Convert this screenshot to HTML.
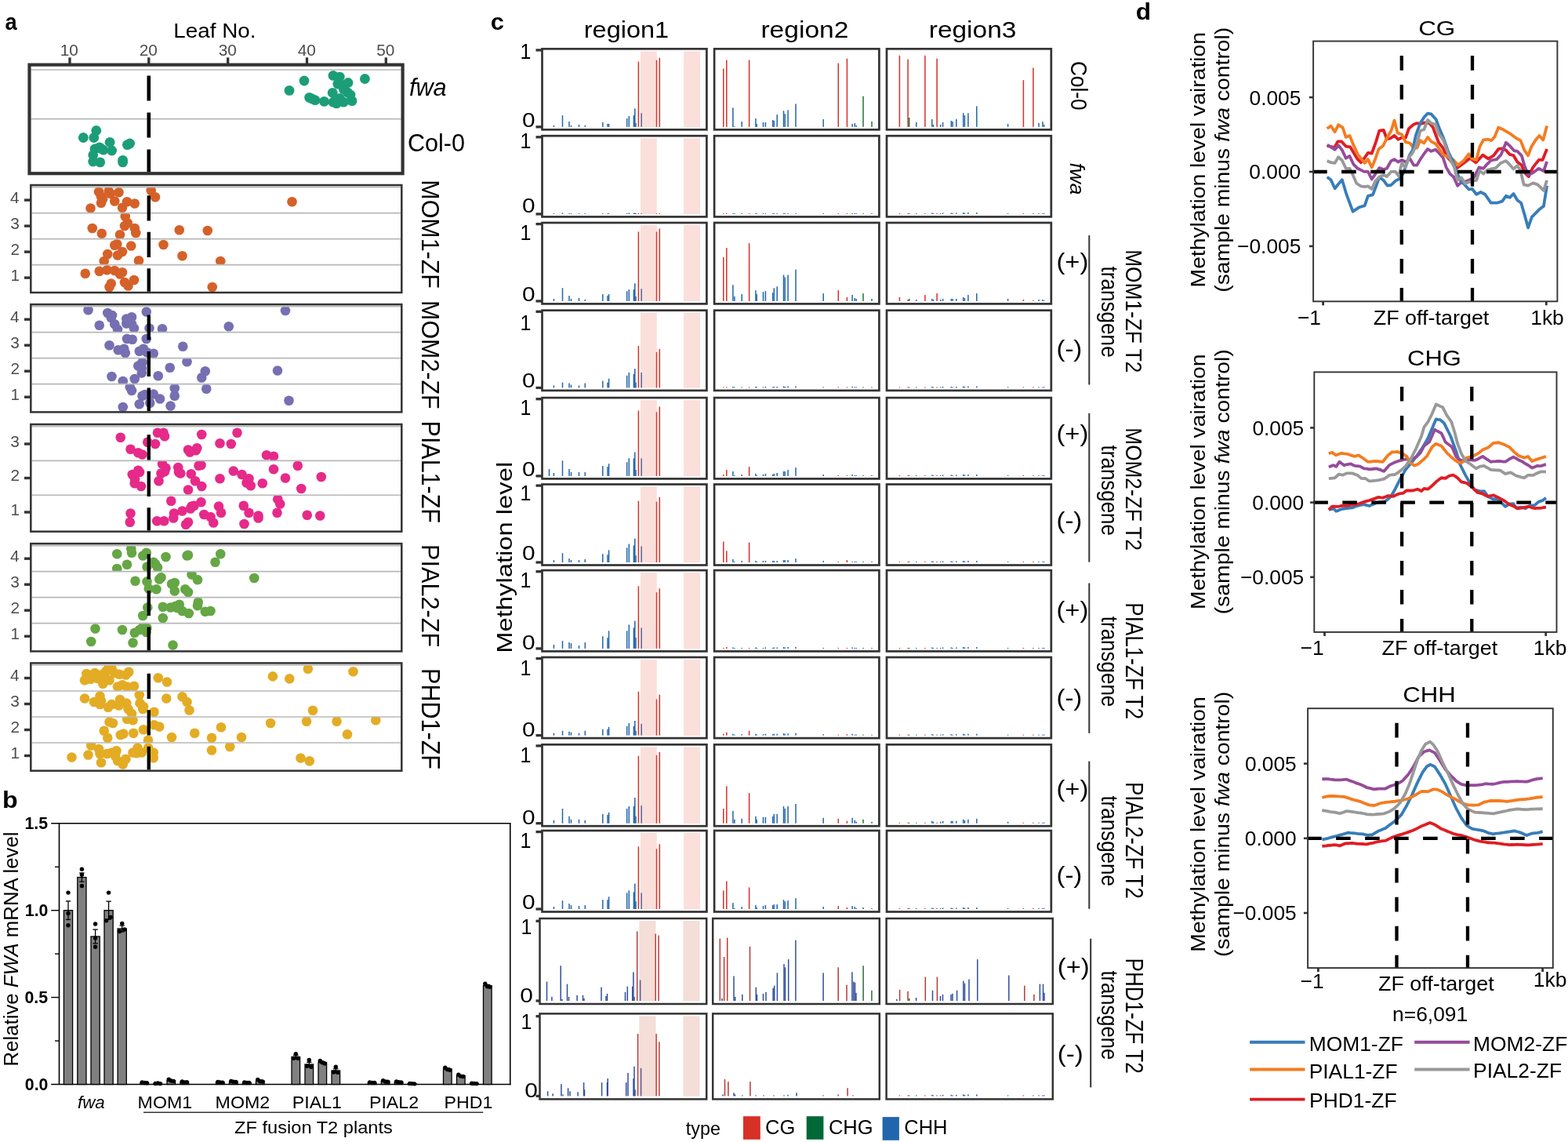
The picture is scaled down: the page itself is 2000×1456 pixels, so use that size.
<!DOCTYPE html><html><head><meta charset="utf-8"><title>Figure</title><style>html,body{margin:0;padding:0;background:#fff;}svg{display:block;}</style></head><body>
<svg width="2000" height="1456" viewBox="0 0 2000 1456" font-family="'Liberation Sans', Arial, sans-serif">
<rect x="0" y="0" width="2000" height="1456" fill="#fff"/>
<text transform="translate(6.58,37.7) scale(0.9042,1)" font-size="30.18" font-weight="bold" fill="#000">a</text>
<text transform="translate(221.27,47.54) scale(1.0769,1)" font-size="25.85" fill="#000">Leaf No.</text>
<line x1="89" y1="73.3" x2="89" y2="81" stroke="#333333" stroke-width="3.3"/>
<text x="76.64" y="70.9" font-size="20.8" fill="#4d4d4d">10</text>
<line x1="189.8" y1="73.3" x2="189.8" y2="81" stroke="#333333" stroke-width="3.3"/>
<text x="177.7" y="70.9" font-size="20.8" fill="#4d4d4d">20</text>
<line x1="290.7" y1="73.3" x2="290.7" y2="81" stroke="#333333" stroke-width="3.3"/>
<text x="278.7" y="70.9" font-size="20.8" fill="#4d4d4d">30</text>
<line x1="391.5" y1="73.3" x2="391.5" y2="81" stroke="#333333" stroke-width="3.3"/>
<text x="379.71" y="70.9" font-size="20.8" fill="#4d4d4d">40</text>
<line x1="492.3" y1="73.3" x2="492.3" y2="81" stroke="#333333" stroke-width="3.3"/>
<text x="480.3" y="70.9" font-size="20.8" fill="#4d4d4d">50</text>
<g>
<clipPath id="cb1"><rect x="39.5" y="89" width="472.1" height="62.6"/></clipPath>
<g clip-path="url(#cb1)">
<circle cx="369" cy="115.4" r="6.4" fill="#1b9e78"/>
<circle cx="388" cy="103" r="6.4" fill="#1b9e78"/>
<circle cx="425" cy="96.4" r="6.4" fill="#1b9e78"/>
<circle cx="433.3" cy="98.1" r="6.4" fill="#1b9e78"/>
<circle cx="444" cy="105.5" r="6.4" fill="#1b9e78"/>
<circle cx="430.8" cy="107.1" r="6.4" fill="#1b9e78"/>
<circle cx="465.4" cy="100.5" r="6.4" fill="#1b9e78"/>
<circle cx="424.2" cy="118.3" r="6.4" fill="#1b9e78"/>
<circle cx="443.2" cy="117.8" r="6.4" fill="#1b9e78"/>
<circle cx="438.2" cy="113.7" r="6.4" fill="#1b9e78"/>
<circle cx="394.6" cy="124.4" r="6.4" fill="#1b9e78"/>
<circle cx="402" cy="127.7" r="6.4" fill="#1b9e78"/>
<circle cx="413.5" cy="129.4" r="6.4" fill="#1b9e78"/>
<circle cx="425" cy="130.2" r="6.4" fill="#1b9e78"/>
<circle cx="429.2" cy="131.9" r="6.4" fill="#1b9e78"/>
<circle cx="438.2" cy="130.2" r="6.4" fill="#1b9e78"/>
<circle cx="449" cy="128.6" r="6.4" fill="#1b9e78"/>
<circle cx="433.3" cy="125.3" r="6.4" fill="#1b9e78"/>
<circle cx="398" cy="126" r="6.4" fill="#1b9e78"/>
<circle cx="436" cy="108" r="6.4" fill="#1b9e78"/>
<circle cx="447" cy="121" r="6.4" fill="#1b9e78"/>
</g>
<clipPath id="cb2"><rect x="39.5" y="151.6" width="472.1" height="70.4"/></clipPath>
<g clip-path="url(#cb2)">
<circle cx="106.3" cy="175.5" r="6.4" fill="#1b9e78"/>
<circle cx="122.8" cy="166.5" r="6.4" fill="#1b9e78"/>
<circle cx="119.8" cy="175.5" r="6.4" fill="#1b9e78"/>
<circle cx="126.9" cy="187.9" r="6.4" fill="#1b9e78"/>
<circle cx="131.9" cy="191.2" r="6.4" fill="#1b9e78"/>
<circle cx="140.1" cy="181.3" r="6.4" fill="#1b9e78"/>
<circle cx="142.6" cy="192" r="6.4" fill="#1b9e78"/>
<circle cx="118.7" cy="197.8" r="6.4" fill="#1b9e78"/>
<circle cx="118.7" cy="206" r="6.4" fill="#1b9e78"/>
<circle cx="127.7" cy="206.9" r="6.4" fill="#1b9e78"/>
<circle cx="162.4" cy="184.6" r="6.4" fill="#1b9e78"/>
<circle cx="165.6" cy="183" r="6.4" fill="#1b9e78"/>
<circle cx="156.6" cy="206.9" r="6.4" fill="#1b9e78"/>
<circle cx="156.6" cy="204.4" r="6.4" fill="#1b9e78"/>
<circle cx="121" cy="190" r="6.4" fill="#1b9e78"/>
<circle cx="128" cy="189" r="6.4" fill="#1b9e78"/>
</g>
<line x1="39.5" y1="89" x2="511.6" y2="89" stroke="#b8b8b8" stroke-width="1.7"/>
<line x1="39.5" y1="151.6" x2="511.6" y2="151.6" stroke="#b8b8b8" stroke-width="1.7"/>
<line x1="189.8" y1="96.4" x2="189.8" y2="219.3" stroke="#000" stroke-width="4.6" stroke-dasharray="32.2 14.8"/>
<rect x="37.5" y="82.6" width="476.1" height="138.6" fill="none" stroke="#333333" stroke-width="4.2"/>
</g>
<text transform="translate(521.93,122.08) scale(0.9624,1)" font-size="31.84" font-style="italic" fill="#000">fwa</text>
<text transform="translate(519.97,192.88) scale(0.9607,1)" font-size="31.84" fill="#000">Col-0</text>
<clipPath id="cb3"><rect x="40.5" y="238.6" width="470.8" height="33"/></clipPath>
<g clip-path="url(#cb3)">
<circle cx="126" cy="244.5" r="6.3" fill="#d56128"/>
<circle cx="138.7" cy="243.75" r="6.3" fill="#d56128"/>
<circle cx="151.5" cy="245.25" r="6.3" fill="#d56128"/>
<circle cx="129" cy="250.5" r="6.3" fill="#d56128"/>
<circle cx="129" cy="258.75" r="6.3" fill="#d56128"/>
<circle cx="146.25" cy="256.5" r="6.3" fill="#d56128"/>
<circle cx="162" cy="257.25" r="6.3" fill="#d56128"/>
<circle cx="171.75" cy="259.5" r="6.3" fill="#d56128"/>
<circle cx="115.5" cy="265.5" r="6.3" fill="#d56128"/>
<circle cx="156" cy="264.75" r="6.3" fill="#d56128"/>
<circle cx="192.75" cy="243" r="6.3" fill="#d56128"/>
<circle cx="198" cy="251.25" r="6.3" fill="#d56128"/>
<circle cx="372.5" cy="257.25" r="6.3" fill="#d56128"/>
<circle cx="141" cy="247" r="6.3" fill="#d56128"/>
<circle cx="131" cy="254" r="6.3" fill="#d56128"/>
</g>
<clipPath id="cb4"><rect x="40.5" y="271.6" width="470.8" height="33"/></clipPath>
<g clip-path="url(#cb4)">
<circle cx="159.75" cy="276" r="6.3" fill="#d56128"/>
<circle cx="162.75" cy="284.25" r="6.3" fill="#d56128"/>
<circle cx="159" cy="288" r="6.3" fill="#d56128"/>
<circle cx="117.75" cy="291" r="6.3" fill="#d56128"/>
<circle cx="171.75" cy="291" r="6.3" fill="#d56128"/>
<circle cx="129.75" cy="297.75" r="6.3" fill="#d56128"/>
<circle cx="173.25" cy="297" r="6.3" fill="#d56128"/>
<circle cx="153" cy="299.25" r="6.3" fill="#d56128"/>
<circle cx="228.75" cy="293.25" r="6.3" fill="#d56128"/>
<circle cx="264.75" cy="294" r="6.3" fill="#d56128"/>
</g>
<clipPath id="cb5"><rect x="40.5" y="304.6" width="470.8" height="33"/></clipPath>
<g clip-path="url(#cb5)">
<circle cx="149.25" cy="311.25" r="6.3" fill="#d56128"/>
<circle cx="146.25" cy="312.75" r="6.3" fill="#d56128"/>
<circle cx="167.25" cy="313.5" r="6.3" fill="#d56128"/>
<circle cx="137.25" cy="324" r="6.3" fill="#d56128"/>
<circle cx="156" cy="321" r="6.3" fill="#d56128"/>
<circle cx="150" cy="325.5" r="6.3" fill="#d56128"/>
<circle cx="132.75" cy="333" r="6.3" fill="#d56128"/>
<circle cx="177" cy="332.25" r="6.3" fill="#d56128"/>
<circle cx="208.5" cy="312" r="6.3" fill="#d56128"/>
<circle cx="232.5" cy="326.25" r="6.3" fill="#d56128"/>
<circle cx="281.25" cy="333" r="6.3" fill="#d56128"/>
</g>
<clipPath id="cb6"><rect x="40.5" y="337.6" width="470.8" height="35.4"/></clipPath>
<g clip-path="url(#cb6)">
<circle cx="108.75" cy="348.75" r="6.3" fill="#d56128"/>
<circle cx="126.75" cy="345.75" r="6.3" fill="#d56128"/>
<circle cx="136.5" cy="344.25" r="6.3" fill="#d56128"/>
<circle cx="146.25" cy="345" r="6.3" fill="#d56128"/>
<circle cx="156" cy="347.25" r="6.3" fill="#d56128"/>
<circle cx="153" cy="349.5" r="6.3" fill="#d56128"/>
<circle cx="141.75" cy="361.5" r="6.3" fill="#d56128"/>
<circle cx="139.5" cy="366" r="6.3" fill="#d56128"/>
<circle cx="159" cy="360" r="6.3" fill="#d56128"/>
<circle cx="163.5" cy="364.5" r="6.3" fill="#d56128"/>
<circle cx="171" cy="357" r="6.3" fill="#d56128"/>
<circle cx="270.75" cy="366" r="6.3" fill="#d56128"/>
</g>
<line x1="40.5" y1="238.6" x2="511.3" y2="238.6" stroke="#b8b8b8" stroke-width="1.7"/>
<line x1="40.5" y1="271.6" x2="511.3" y2="271.6" stroke="#b8b8b8" stroke-width="1.7"/>
<line x1="40.5" y1="304.6" x2="511.3" y2="304.6" stroke="#b8b8b8" stroke-width="1.7"/>
<line x1="40.5" y1="337.6" x2="511.3" y2="337.6" stroke="#b8b8b8" stroke-width="1.7"/>
<line x1="189.8" y1="249.3" x2="189.8" y2="371.8" stroke="#000" stroke-width="4.4" stroke-dasharray="32.2 14.3"/>
<rect x="39.3" y="236" width="473" height="137" fill="none" stroke="#333333" stroke-width="2.5"/>
<line x1="31" y1="255.1" x2="39.3" y2="255.1" stroke="#333333" stroke-width="3.4"/>
<text x="13.08" y="258.8" font-size="20.8" fill="#4d4d4d">4</text>
<line x1="31" y1="288.1" x2="39.3" y2="288.1" stroke="#333333" stroke-width="3.4"/>
<text x="13.29" y="291.8" font-size="20.8" fill="#4d4d4d">3</text>
<line x1="31" y1="321.1" x2="39.3" y2="321.1" stroke="#333333" stroke-width="3.4"/>
<text x="13.5" y="324.8" font-size="20.8" fill="#4d4d4d">2</text>
<line x1="31" y1="354.1" x2="39.3" y2="354.1" stroke="#333333" stroke-width="3.4"/>
<text x="13.39" y="357.8" font-size="20.8" fill="#4d4d4d">1</text>
<text transform="translate(538.02,229.31) rotate(90) scale(0.9605,1)" font-size="31.69" fill="#000">MOM1-ZF</text>
<clipPath id="cb7"><rect x="40.5" y="390.7" width="470.8" height="33"/></clipPath>
<g clip-path="url(#cb7)">
<circle cx="112.5" cy="395.25" r="6.3" fill="#766fb2"/>
<circle cx="137.25" cy="399" r="6.3" fill="#766fb2"/>
<circle cx="141.75" cy="405" r="6.3" fill="#766fb2"/>
<circle cx="146.25" cy="413.25" r="6.3" fill="#766fb2"/>
<circle cx="150" cy="420" r="6.3" fill="#766fb2"/>
<circle cx="126.75" cy="414.75" r="6.3" fill="#766fb2"/>
<circle cx="161.25" cy="406.5" r="6.3" fill="#766fb2"/>
<circle cx="168" cy="404.25" r="6.3" fill="#766fb2"/>
<circle cx="161.25" cy="412.5" r="6.3" fill="#766fb2"/>
<circle cx="168" cy="413.25" r="6.3" fill="#766fb2"/>
<circle cx="171" cy="418.5" r="6.3" fill="#766fb2"/>
<circle cx="186.75" cy="397.5" r="6.3" fill="#766fb2"/>
<circle cx="190.5" cy="418.5" r="6.3" fill="#766fb2"/>
<circle cx="207" cy="419.25" r="6.3" fill="#766fb2"/>
<circle cx="291.75" cy="416.25" r="6.3" fill="#766fb2"/>
<circle cx="364" cy="396" r="6.3" fill="#766fb2"/>
<circle cx="143" cy="402" r="6.3" fill="#766fb2"/>
<circle cx="164" cy="409" r="6.3" fill="#766fb2"/>
</g>
<clipPath id="cb8"><rect x="40.5" y="423.7" width="470.8" height="33"/></clipPath>
<g clip-path="url(#cb8)">
<circle cx="162" cy="432" r="6.3" fill="#766fb2"/>
<circle cx="168.75" cy="432.75" r="6.3" fill="#766fb2"/>
<circle cx="186.75" cy="432" r="6.3" fill="#766fb2"/>
<circle cx="139.5" cy="440.25" r="6.3" fill="#766fb2"/>
<circle cx="150.75" cy="446.25" r="6.3" fill="#766fb2"/>
<circle cx="158.25" cy="444.75" r="6.3" fill="#766fb2"/>
<circle cx="159.75" cy="450" r="6.3" fill="#766fb2"/>
<circle cx="177.75" cy="447.75" r="6.3" fill="#766fb2"/>
<circle cx="183" cy="444.75" r="6.3" fill="#766fb2"/>
<circle cx="187.5" cy="449.25" r="6.3" fill="#766fb2"/>
<circle cx="195.75" cy="450.75" r="6.3" fill="#766fb2"/>
<circle cx="233.25" cy="441.75" r="6.3" fill="#766fb2"/>
</g>
<clipPath id="cb9"><rect x="40.5" y="456.7" width="470.8" height="33"/></clipPath>
<g clip-path="url(#cb9)">
<circle cx="238.5" cy="461.25" r="6.3" fill="#766fb2"/>
<circle cx="181.5" cy="462" r="6.3" fill="#766fb2"/>
<circle cx="176.25" cy="466.5" r="6.3" fill="#766fb2"/>
<circle cx="180.75" cy="469.5" r="6.3" fill="#766fb2"/>
<circle cx="180.75" cy="475.5" r="6.3" fill="#766fb2"/>
<circle cx="216.75" cy="468.75" r="6.3" fill="#766fb2"/>
<circle cx="261.75" cy="473.25" r="6.3" fill="#766fb2"/>
<circle cx="257.25" cy="481.5" r="6.3" fill="#766fb2"/>
<circle cx="142.5" cy="480" r="6.3" fill="#766fb2"/>
<circle cx="156.75" cy="486" r="6.3" fill="#766fb2"/>
<circle cx="171.75" cy="483" r="6.3" fill="#766fb2"/>
<circle cx="201.75" cy="479.25" r="6.3" fill="#766fb2"/>
<circle cx="354" cy="472.5" r="6.3" fill="#766fb2"/>
</g>
<clipPath id="cb10"><rect x="40.5" y="489.7" width="470.8" height="35.7"/></clipPath>
<g clip-path="url(#cb10)">
<circle cx="165.75" cy="493.5" r="6.3" fill="#766fb2"/>
<circle cx="168" cy="498" r="6.3" fill="#766fb2"/>
<circle cx="222.75" cy="495" r="6.3" fill="#766fb2"/>
<circle cx="222.75" cy="504.75" r="6.3" fill="#766fb2"/>
<circle cx="263.25" cy="495.75" r="6.3" fill="#766fb2"/>
<circle cx="181.5" cy="504.75" r="6.3" fill="#766fb2"/>
<circle cx="195.75" cy="502.5" r="6.3" fill="#766fb2"/>
<circle cx="204" cy="508.5" r="6.3" fill="#766fb2"/>
<circle cx="191.25" cy="513.75" r="6.3" fill="#766fb2"/>
<circle cx="177.75" cy="515.25" r="6.3" fill="#766fb2"/>
<circle cx="156.75" cy="519" r="6.3" fill="#766fb2"/>
<circle cx="217.5" cy="517.5" r="6.3" fill="#766fb2"/>
<circle cx="368.5" cy="510.75" r="6.3" fill="#766fb2"/>
<circle cx="185" cy="503" r="6.3" fill="#766fb2"/>
</g>
<line x1="40.5" y1="390.7" x2="511.3" y2="390.7" stroke="#b8b8b8" stroke-width="1.7"/>
<line x1="40.5" y1="423.7" x2="511.3" y2="423.7" stroke="#b8b8b8" stroke-width="1.7"/>
<line x1="40.5" y1="456.7" x2="511.3" y2="456.7" stroke="#b8b8b8" stroke-width="1.7"/>
<line x1="40.5" y1="489.7" x2="511.3" y2="489.7" stroke="#b8b8b8" stroke-width="1.7"/>
<line x1="189.8" y1="401.4" x2="189.8" y2="524.2" stroke="#000" stroke-width="4.4" stroke-dasharray="32.2 14.3"/>
<rect x="39.3" y="388.1" width="473" height="137.3" fill="none" stroke="#333333" stroke-width="2.5"/>
<line x1="31" y1="407.2" x2="39.3" y2="407.2" stroke="#333333" stroke-width="3.4"/>
<text x="13.08" y="410.9" font-size="20.8" fill="#4d4d4d">4</text>
<line x1="31" y1="440.2" x2="39.3" y2="440.2" stroke="#333333" stroke-width="3.4"/>
<text x="13.29" y="443.9" font-size="20.8" fill="#4d4d4d">3</text>
<line x1="31" y1="473.2" x2="39.3" y2="473.2" stroke="#333333" stroke-width="3.4"/>
<text x="13.5" y="476.9" font-size="20.8" fill="#4d4d4d">2</text>
<line x1="31" y1="506.2" x2="39.3" y2="506.2" stroke="#333333" stroke-width="3.4"/>
<text x="13.39" y="509.9" font-size="20.8" fill="#4d4d4d">1</text>
<text transform="translate(538.02,383.06) rotate(90) scale(0.9605,1)" font-size="31.69" fill="#000">MOM2-ZF</text>
<clipPath id="cb11"><rect x="40.5" y="543.6" width="470.8" height="43.8"/></clipPath>
<g clip-path="url(#cb11)">
<circle cx="153.75" cy="557.75" r="6.3" fill="#e62a8a"/>
<circle cx="166.5" cy="572.75" r="6.3" fill="#e62a8a"/>
<circle cx="176.25" cy="577.25" r="6.3" fill="#e62a8a"/>
<circle cx="181.5" cy="579.5" r="6.3" fill="#e62a8a"/>
<circle cx="188.25" cy="563.75" r="6.3" fill="#e62a8a"/>
<circle cx="198" cy="566" r="6.3" fill="#e62a8a"/>
<circle cx="201" cy="551.75" r="6.3" fill="#e62a8a"/>
<circle cx="208.5" cy="551.75" r="6.3" fill="#e62a8a"/>
<circle cx="210" cy="556.25" r="6.3" fill="#e62a8a"/>
<circle cx="257.25" cy="554" r="6.3" fill="#e62a8a"/>
<circle cx="240" cy="573.5" r="6.3" fill="#e62a8a"/>
<circle cx="242.25" cy="576.5" r="6.3" fill="#e62a8a"/>
<circle cx="249.75" cy="574.25" r="6.3" fill="#e62a8a"/>
<circle cx="251.25" cy="571.25" r="6.3" fill="#e62a8a"/>
<circle cx="280.5" cy="565.25" r="6.3" fill="#e62a8a"/>
<circle cx="294.75" cy="566" r="6.3" fill="#e62a8a"/>
<circle cx="302.5" cy="551.75" r="6.3" fill="#e62a8a"/>
<circle cx="340" cy="580.25" r="6.3" fill="#e62a8a"/>
<circle cx="349" cy="581.75" r="6.3" fill="#e62a8a"/>
</g>
<clipPath id="cb12"><rect x="40.5" y="587.4" width="470.8" height="43.85"/></clipPath>
<g clip-path="url(#cb12)">
<circle cx="176.25" cy="599.75" r="6.3" fill="#e62a8a"/>
<circle cx="168.75" cy="605" r="6.3" fill="#e62a8a"/>
<circle cx="171.75" cy="616.25" r="6.3" fill="#e62a8a"/>
<circle cx="180" cy="620" r="6.3" fill="#e62a8a"/>
<circle cx="207" cy="591.5" r="6.3" fill="#e62a8a"/>
<circle cx="211.5" cy="596.75" r="6.3" fill="#e62a8a"/>
<circle cx="205.5" cy="603.5" r="6.3" fill="#e62a8a"/>
<circle cx="210" cy="601.25" r="6.3" fill="#e62a8a"/>
<circle cx="202.5" cy="613.25" r="6.3" fill="#e62a8a"/>
<circle cx="227.25" cy="596" r="6.3" fill="#e62a8a"/>
<circle cx="228" cy="602" r="6.3" fill="#e62a8a"/>
<circle cx="230.25" cy="603.5" r="6.3" fill="#e62a8a"/>
<circle cx="243.75" cy="604.25" r="6.3" fill="#e62a8a"/>
<circle cx="249" cy="613.25" r="6.3" fill="#e62a8a"/>
<circle cx="257.25" cy="620" r="6.3" fill="#e62a8a"/>
<circle cx="240" cy="624.5" r="6.3" fill="#e62a8a"/>
<circle cx="253.5" cy="593.75" r="6.3" fill="#e62a8a"/>
<circle cx="256.5" cy="593" r="6.3" fill="#e62a8a"/>
<circle cx="280.5" cy="610.25" r="6.3" fill="#e62a8a"/>
<circle cx="297.75" cy="600.5" r="6.3" fill="#e62a8a"/>
<circle cx="308.5" cy="605" r="6.3" fill="#e62a8a"/>
<circle cx="317.5" cy="610.25" r="6.3" fill="#e62a8a"/>
<circle cx="314.5" cy="615.5" r="6.3" fill="#e62a8a"/>
<circle cx="319.75" cy="619.25" r="6.3" fill="#e62a8a"/>
<circle cx="334.75" cy="616.25" r="6.3" fill="#e62a8a"/>
<circle cx="349" cy="598.25" r="6.3" fill="#e62a8a"/>
<circle cx="364" cy="609.5" r="6.3" fill="#e62a8a"/>
<circle cx="379.75" cy="593.75" r="6.3" fill="#e62a8a"/>
<circle cx="384.25" cy="623" r="6.3" fill="#e62a8a"/>
<circle cx="409.75" cy="608" r="6.3" fill="#e62a8a"/>
<circle cx="172" cy="611" r="6.3" fill="#e62a8a"/>
<circle cx="178" cy="602" r="6.3" fill="#e62a8a"/>
</g>
<clipPath id="cb13"><rect x="40.5" y="631.25" width="470.8" height="46.45"/></clipPath>
<g clip-path="url(#cb13)">
<circle cx="166.5" cy="654.5" r="6.3" fill="#e62a8a"/>
<circle cx="165.75" cy="665.75" r="6.3" fill="#e62a8a"/>
<circle cx="200.25" cy="664.25" r="6.3" fill="#e62a8a"/>
<circle cx="209.25" cy="664.25" r="6.3" fill="#e62a8a"/>
<circle cx="218.25" cy="638.75" r="6.3" fill="#e62a8a"/>
<circle cx="222" cy="654.5" r="6.3" fill="#e62a8a"/>
<circle cx="221.25" cy="660.5" r="6.3" fill="#e62a8a"/>
<circle cx="232.5" cy="651.5" r="6.3" fill="#e62a8a"/>
<circle cx="240" cy="665.75" r="6.3" fill="#e62a8a"/>
<circle cx="237" cy="668.75" r="6.3" fill="#e62a8a"/>
<circle cx="244.5" cy="645.5" r="6.3" fill="#e62a8a"/>
<circle cx="247.5" cy="644.75" r="6.3" fill="#e62a8a"/>
<circle cx="256.5" cy="640.25" r="6.3" fill="#e62a8a"/>
<circle cx="243" cy="648.5" r="6.3" fill="#e62a8a"/>
<circle cx="260.25" cy="656" r="6.3" fill="#e62a8a"/>
<circle cx="268.5" cy="659" r="6.3" fill="#e62a8a"/>
<circle cx="272.25" cy="666.5" r="6.3" fill="#e62a8a"/>
<circle cx="279" cy="645.5" r="6.3" fill="#e62a8a"/>
<circle cx="282" cy="653.75" r="6.3" fill="#e62a8a"/>
<circle cx="354.25" cy="636.5" r="6.3" fill="#e62a8a"/>
<circle cx="357.25" cy="642.5" r="6.3" fill="#e62a8a"/>
<circle cx="353.5" cy="653.75" r="6.3" fill="#e62a8a"/>
<circle cx="310.75" cy="644.75" r="6.3" fill="#e62a8a"/>
<circle cx="317.5" cy="653.75" r="6.3" fill="#e62a8a"/>
<circle cx="329.5" cy="657.5" r="6.3" fill="#e62a8a"/>
<circle cx="329.5" cy="660.5" r="6.3" fill="#e62a8a"/>
<circle cx="311.5" cy="668" r="6.3" fill="#e62a8a"/>
<circle cx="391.75" cy="656.75" r="6.3" fill="#e62a8a"/>
<circle cx="408.25" cy="657.5" r="6.3" fill="#e62a8a"/>
</g>
<line x1="40.5" y1="543.6" x2="511.3" y2="543.6" stroke="#b8b8b8" stroke-width="1.7"/>
<line x1="40.5" y1="587.4" x2="511.3" y2="587.4" stroke="#b8b8b8" stroke-width="1.7"/>
<line x1="40.5" y1="631.25" x2="511.3" y2="631.25" stroke="#b8b8b8" stroke-width="1.7"/>
<line x1="189.8" y1="554.3" x2="189.8" y2="676.5" stroke="#000" stroke-width="4.4" stroke-dasharray="32.2 14.3"/>
<rect x="39.3" y="541" width="473" height="136.7" fill="none" stroke="#333333" stroke-width="2.5"/>
<line x1="31" y1="566" x2="39.3" y2="566" stroke="#333333" stroke-width="3.4"/>
<text x="13.29" y="569.7" font-size="20.8" fill="#4d4d4d">3</text>
<line x1="31" y1="609.5" x2="39.3" y2="609.5" stroke="#333333" stroke-width="3.4"/>
<text x="13.5" y="613.2" font-size="20.8" fill="#4d4d4d">2</text>
<line x1="31" y1="653" x2="39.3" y2="653" stroke="#333333" stroke-width="3.4"/>
<text x="13.39" y="656.7" font-size="20.8" fill="#4d4d4d">1</text>
<text transform="translate(537.7,536.56) rotate(90) scale(0.9344,1)" font-size="32.61" fill="#000">PIAL1-ZF</text>
<clipPath id="cb14"><rect x="40.5" y="695.7" width="470.8" height="33"/></clipPath>
<g clip-path="url(#cb14)">
<circle cx="167.25" cy="699.5" r="6.3" fill="#65a645"/>
<circle cx="168" cy="704.75" r="6.3" fill="#65a645"/>
<circle cx="149.25" cy="706.25" r="6.3" fill="#65a645"/>
<circle cx="186.75" cy="704.75" r="6.3" fill="#65a645"/>
<circle cx="182.25" cy="708.5" r="6.3" fill="#65a645"/>
<circle cx="211.5" cy="710" r="6.3" fill="#65a645"/>
<circle cx="238.5" cy="708.5" r="6.3" fill="#65a645"/>
<circle cx="240" cy="707.75" r="6.3" fill="#65a645"/>
<circle cx="281.25" cy="706.25" r="6.3" fill="#65a645"/>
<circle cx="274.5" cy="716.75" r="6.3" fill="#65a645"/>
<circle cx="162" cy="719.75" r="6.3" fill="#65a645"/>
<circle cx="149.25" cy="725" r="6.3" fill="#65a645"/>
<circle cx="187.5" cy="722.75" r="6.3" fill="#65a645"/>
<circle cx="195.75" cy="716.75" r="6.3" fill="#65a645"/>
<circle cx="201" cy="723.5" r="6.3" fill="#65a645"/>
<circle cx="198" cy="719" r="6.3" fill="#65a645"/>
</g>
<clipPath id="cb15"><rect x="40.5" y="728.7" width="470.8" height="33"/></clipPath>
<g clip-path="url(#cb15)">
<circle cx="244.5" cy="732.5" r="6.3" fill="#65a645"/>
<circle cx="252" cy="739.25" r="6.3" fill="#65a645"/>
<circle cx="172.5" cy="740.75" r="6.3" fill="#65a645"/>
<circle cx="187.5" cy="741.5" r="6.3" fill="#65a645"/>
<circle cx="189.75" cy="750.5" r="6.3" fill="#65a645"/>
<circle cx="199.5" cy="751.25" r="6.3" fill="#65a645"/>
<circle cx="205.5" cy="736.25" r="6.3" fill="#65a645"/>
<circle cx="203.25" cy="738.5" r="6.3" fill="#65a645"/>
<circle cx="219" cy="744.5" r="6.3" fill="#65a645"/>
<circle cx="222.75" cy="743" r="6.3" fill="#65a645"/>
<circle cx="222.75" cy="753.5" r="6.3" fill="#65a645"/>
<circle cx="236.25" cy="751.25" r="6.3" fill="#65a645"/>
<circle cx="240" cy="755" r="6.3" fill="#65a645"/>
<circle cx="324.25" cy="737" r="6.3" fill="#65a645"/>
</g>
<clipPath id="cb16"><rect x="40.5" y="761.7" width="470.8" height="33"/></clipPath>
<g clip-path="url(#cb16)">
<circle cx="188.25" cy="774.5" r="6.3" fill="#65a645"/>
<circle cx="182.25" cy="785" r="6.3" fill="#65a645"/>
<circle cx="207.75" cy="773.75" r="6.3" fill="#65a645"/>
<circle cx="217.5" cy="774.5" r="6.3" fill="#65a645"/>
<circle cx="223.5" cy="773" r="6.3" fill="#65a645"/>
<circle cx="228.75" cy="770.75" r="6.3" fill="#65a645"/>
<circle cx="232.5" cy="779" r="6.3" fill="#65a645"/>
<circle cx="240.75" cy="782" r="6.3" fill="#65a645"/>
<circle cx="252.75" cy="767.75" r="6.3" fill="#65a645"/>
<circle cx="252" cy="772.25" r="6.3" fill="#65a645"/>
<circle cx="261.75" cy="779.75" r="6.3" fill="#65a645"/>
<circle cx="268.5" cy="779" r="6.3" fill="#65a645"/>
<circle cx="207.75" cy="788" r="6.3" fill="#65a645"/>
<circle cx="226" cy="775" r="6.3" fill="#65a645"/>
</g>
<clipPath id="cb17"><rect x="40.5" y="794.7" width="470.8" height="35.7"/></clipPath>
<g clip-path="url(#cb17)">
<circle cx="121.5" cy="801.5" r="6.3" fill="#65a645"/>
<circle cx="156" cy="803" r="6.3" fill="#65a645"/>
<circle cx="171.75" cy="806.75" r="6.3" fill="#65a645"/>
<circle cx="182.25" cy="799.25" r="6.3" fill="#65a645"/>
<circle cx="186.75" cy="806" r="6.3" fill="#65a645"/>
<circle cx="187.5" cy="800.75" r="6.3" fill="#65a645"/>
<circle cx="116.25" cy="818" r="6.3" fill="#65a645"/>
<circle cx="169.5" cy="819.5" r="6.3" fill="#65a645"/>
<circle cx="220.5" cy="822.5" r="6.3" fill="#65a645"/>
<circle cx="178" cy="803" r="6.3" fill="#65a645"/>
</g>
<line x1="40.5" y1="695.7" x2="511.3" y2="695.7" stroke="#b8b8b8" stroke-width="1.7"/>
<line x1="40.5" y1="728.7" x2="511.3" y2="728.7" stroke="#b8b8b8" stroke-width="1.7"/>
<line x1="40.5" y1="761.7" x2="511.3" y2="761.7" stroke="#b8b8b8" stroke-width="1.7"/>
<line x1="40.5" y1="794.7" x2="511.3" y2="794.7" stroke="#b8b8b8" stroke-width="1.7"/>
<line x1="189.8" y1="706.4" x2="189.8" y2="829.2" stroke="#000" stroke-width="4.4" stroke-dasharray="32.2 14.3"/>
<rect x="39.3" y="693.1" width="473" height="137.3" fill="none" stroke="#333333" stroke-width="2.5"/>
<line x1="31" y1="712.2" x2="39.3" y2="712.2" stroke="#333333" stroke-width="3.4"/>
<text x="13.08" y="715.9" font-size="20.8" fill="#4d4d4d">4</text>
<line x1="31" y1="745.2" x2="39.3" y2="745.2" stroke="#333333" stroke-width="3.4"/>
<text x="13.29" y="748.9" font-size="20.8" fill="#4d4d4d">3</text>
<line x1="31" y1="778.2" x2="39.3" y2="778.2" stroke="#333333" stroke-width="3.4"/>
<text x="13.5" y="781.9" font-size="20.8" fill="#4d4d4d">2</text>
<line x1="31" y1="811.2" x2="39.3" y2="811.2" stroke="#333333" stroke-width="3.4"/>
<text x="13.39" y="814.9" font-size="20.8" fill="#4d4d4d">1</text>
<text transform="translate(537.7,694.05) rotate(90) scale(0.9535,1)" font-size="32.14" fill="#000">PIAL2-ZF</text>
<clipPath id="cb18"><rect x="40.5" y="848" width="470.8" height="33"/></clipPath>
<g clip-path="url(#cb18)">
<circle cx="110.25" cy="859" r="6.3" fill="#e3ac24"/>
<circle cx="118.5" cy="862" r="6.3" fill="#e3ac24"/>
<circle cx="108" cy="867.25" r="6.3" fill="#e3ac24"/>
<circle cx="115.5" cy="865.75" r="6.3" fill="#e3ac24"/>
<circle cx="124.5" cy="865" r="6.3" fill="#e3ac24"/>
<circle cx="129" cy="860.5" r="6.3" fill="#e3ac24"/>
<circle cx="135" cy="856" r="6.3" fill="#e3ac24"/>
<circle cx="138" cy="852.25" r="6.3" fill="#e3ac24"/>
<circle cx="142.5" cy="852.25" r="6.3" fill="#e3ac24"/>
<circle cx="131.25" cy="871.75" r="6.3" fill="#e3ac24"/>
<circle cx="139.5" cy="867.25" r="6.3" fill="#e3ac24"/>
<circle cx="152.25" cy="859.75" r="6.3" fill="#e3ac24"/>
<circle cx="160.5" cy="860.5" r="6.3" fill="#e3ac24"/>
<circle cx="164.25" cy="856.75" r="6.3" fill="#e3ac24"/>
<circle cx="150" cy="875.5" r="6.3" fill="#e3ac24"/>
<circle cx="156" cy="873.25" r="6.3" fill="#e3ac24"/>
<circle cx="162" cy="875.5" r="6.3" fill="#e3ac24"/>
<circle cx="171" cy="874.75" r="6.3" fill="#e3ac24"/>
<circle cx="201.75" cy="864.25" r="6.3" fill="#e3ac24"/>
<circle cx="213" cy="869.5" r="6.3" fill="#e3ac24"/>
<circle cx="347.9" cy="862.4" r="6.3" fill="#e3ac24"/>
<circle cx="369.25" cy="865.4" r="6.3" fill="#e3ac24"/>
<circle cx="392.8" cy="852.7" r="6.3" fill="#e3ac24"/>
<circle cx="450.5" cy="856.3" r="6.3" fill="#e3ac24"/>
<circle cx="133" cy="862" r="6.3" fill="#e3ac24"/>
<circle cx="146" cy="858" r="6.3" fill="#e3ac24"/>
<circle cx="121" cy="858" r="6.3" fill="#e3ac24"/>
</g>
<clipPath id="cb19"><rect x="40.5" y="881" width="470.8" height="33"/></clipPath>
<g clip-path="url(#cb19)">
<circle cx="108" cy="890.5" r="6.3" fill="#e3ac24"/>
<circle cx="127.5" cy="887.5" r="6.3" fill="#e3ac24"/>
<circle cx="129" cy="893.5" r="6.3" fill="#e3ac24"/>
<circle cx="120" cy="895" r="6.3" fill="#e3ac24"/>
<circle cx="127.5" cy="898" r="6.3" fill="#e3ac24"/>
<circle cx="138" cy="901.75" r="6.3" fill="#e3ac24"/>
<circle cx="142.5" cy="898" r="6.3" fill="#e3ac24"/>
<circle cx="151.5" cy="899.5" r="6.3" fill="#e3ac24"/>
<circle cx="153" cy="892" r="6.3" fill="#e3ac24"/>
<circle cx="161.25" cy="896.5" r="6.3" fill="#e3ac24"/>
<circle cx="163.5" cy="904" r="6.3" fill="#e3ac24"/>
<circle cx="168" cy="910" r="6.3" fill="#e3ac24"/>
<circle cx="177.75" cy="886" r="6.3" fill="#e3ac24"/>
<circle cx="178.5" cy="896.5" r="6.3" fill="#e3ac24"/>
<circle cx="183" cy="901" r="6.3" fill="#e3ac24"/>
<circle cx="182.25" cy="904" r="6.3" fill="#e3ac24"/>
<circle cx="196.5" cy="907.75" r="6.3" fill="#e3ac24"/>
<circle cx="212.25" cy="890.5" r="6.3" fill="#e3ac24"/>
<circle cx="232.5" cy="888.25" r="6.3" fill="#e3ac24"/>
<circle cx="238.5" cy="895" r="6.3" fill="#e3ac24"/>
<circle cx="241.5" cy="905.5" r="6.3" fill="#e3ac24"/>
<circle cx="399" cy="905.8" r="6.3" fill="#e3ac24"/>
</g>
<clipPath id="cb20"><rect x="40.5" y="914" width="470.8" height="33"/></clipPath>
<g clip-path="url(#cb20)">
<circle cx="139.5" cy="920.5" r="6.3" fill="#e3ac24"/>
<circle cx="144" cy="922" r="6.3" fill="#e3ac24"/>
<circle cx="162" cy="916.75" r="6.3" fill="#e3ac24"/>
<circle cx="169.5" cy="918.25" r="6.3" fill="#e3ac24"/>
<circle cx="132.75" cy="931.75" r="6.3" fill="#e3ac24"/>
<circle cx="137.25" cy="940.75" r="6.3" fill="#e3ac24"/>
<circle cx="153.75" cy="937" r="6.3" fill="#e3ac24"/>
<circle cx="157.5" cy="935.5" r="6.3" fill="#e3ac24"/>
<circle cx="170.25" cy="934.75" r="6.3" fill="#e3ac24"/>
<circle cx="183" cy="930.25" r="6.3" fill="#e3ac24"/>
<circle cx="196.5" cy="924.25" r="6.3" fill="#e3ac24"/>
<circle cx="203.25" cy="926.5" r="6.3" fill="#e3ac24"/>
<circle cx="189" cy="943.75" r="6.3" fill="#e3ac24"/>
<circle cx="219" cy="940" r="6.3" fill="#e3ac24"/>
<circle cx="248.25" cy="934.75" r="6.3" fill="#e3ac24"/>
<circle cx="270" cy="940.75" r="6.3" fill="#e3ac24"/>
<circle cx="282" cy="927.25" r="6.3" fill="#e3ac24"/>
<circle cx="308" cy="940" r="6.3" fill="#e3ac24"/>
<circle cx="345.1" cy="922" r="6.3" fill="#e3ac24"/>
<circle cx="391" cy="919.75" r="6.3" fill="#e3ac24"/>
<circle cx="429.5" cy="919.75" r="6.3" fill="#e3ac24"/>
<circle cx="479.3" cy="918.25" r="6.3" fill="#e3ac24"/>
<circle cx="443" cy="936.25" r="6.3" fill="#e3ac24"/>
</g>
<clipPath id="cb21"><rect x="40.5" y="947" width="470.8" height="35.7"/></clipPath>
<g clip-path="url(#cb21)">
<circle cx="91.5" cy="965.5" r="6.3" fill="#e3ac24"/>
<circle cx="112.5" cy="962.5" r="6.3" fill="#e3ac24"/>
<circle cx="116.25" cy="950.5" r="6.3" fill="#e3ac24"/>
<circle cx="126" cy="955" r="6.3" fill="#e3ac24"/>
<circle cx="127.5" cy="961" r="6.3" fill="#e3ac24"/>
<circle cx="129" cy="972.25" r="6.3" fill="#e3ac24"/>
<circle cx="136.5" cy="961" r="6.3" fill="#e3ac24"/>
<circle cx="142.5" cy="959.5" r="6.3" fill="#e3ac24"/>
<circle cx="148.5" cy="957.25" r="6.3" fill="#e3ac24"/>
<circle cx="147" cy="964" r="6.3" fill="#e3ac24"/>
<circle cx="150" cy="970" r="6.3" fill="#e3ac24"/>
<circle cx="156.75" cy="974.5" r="6.3" fill="#e3ac24"/>
<circle cx="160.5" cy="967.75" r="6.3" fill="#e3ac24"/>
<circle cx="169.5" cy="959.5" r="6.3" fill="#e3ac24"/>
<circle cx="175.5" cy="953.5" r="6.3" fill="#e3ac24"/>
<circle cx="174" cy="960.25" r="6.3" fill="#e3ac24"/>
<circle cx="180.75" cy="959.5" r="6.3" fill="#e3ac24"/>
<circle cx="189" cy="953.5" r="6.3" fill="#e3ac24"/>
<circle cx="195.75" cy="959.5" r="6.3" fill="#e3ac24"/>
<circle cx="195.75" cy="966.25" r="6.3" fill="#e3ac24"/>
<circle cx="270" cy="956.5" r="6.3" fill="#e3ac24"/>
<circle cx="293.25" cy="952" r="6.3" fill="#e3ac24"/>
<circle cx="383.5" cy="966.5" r="6.3" fill="#e3ac24"/>
<circle cx="394.75" cy="970.3" r="6.3" fill="#e3ac24"/>
</g>
<line x1="40.5" y1="848" x2="511.3" y2="848" stroke="#b8b8b8" stroke-width="1.7"/>
<line x1="40.5" y1="881" x2="511.3" y2="881" stroke="#b8b8b8" stroke-width="1.7"/>
<line x1="40.5" y1="914" x2="511.3" y2="914" stroke="#b8b8b8" stroke-width="1.7"/>
<line x1="40.5" y1="947" x2="511.3" y2="947" stroke="#b8b8b8" stroke-width="1.7"/>
<line x1="189.8" y1="858.7" x2="189.8" y2="981.5" stroke="#000" stroke-width="4.4" stroke-dasharray="32.2 14.3"/>
<rect x="39.3" y="845.4" width="473" height="137.3" fill="none" stroke="#333333" stroke-width="2.5"/>
<line x1="31" y1="864.5" x2="39.3" y2="864.5" stroke="#333333" stroke-width="3.4"/>
<text x="13.08" y="868.2" font-size="20.8" fill="#4d4d4d">4</text>
<line x1="31" y1="897.5" x2="39.3" y2="897.5" stroke="#333333" stroke-width="3.4"/>
<text x="13.29" y="901.2" font-size="20.8" fill="#4d4d4d">3</text>
<line x1="31" y1="930.5" x2="39.3" y2="930.5" stroke="#333333" stroke-width="3.4"/>
<text x="13.5" y="934.2" font-size="20.8" fill="#4d4d4d">2</text>
<line x1="31" y1="963.5" x2="39.3" y2="963.5" stroke="#333333" stroke-width="3.4"/>
<text x="13.39" y="967.2" font-size="20.8" fill="#4d4d4d">1</text>
<text transform="translate(537.7,852.06) rotate(90) scale(0.9368,1)" font-size="32.61" fill="#000">PHD1-ZF</text>
<text transform="translate(3.1,1030.01) scale(1.1086,1)" font-size="29.12" font-weight="bold" fill="#000">b</text>
<line x1="75.5" y1="1049.75" x2="75.5" y2="1382.5" stroke="#000" stroke-width="1.6"/>
<line x1="65.2" y1="1049.75" x2="651.5" y2="1049.75" stroke="#000" stroke-width="1.6"/>
<line x1="650.75" y1="1049.75" x2="650.75" y2="1383.3" stroke="#000" stroke-width="1.6"/>
<line x1="65.2" y1="1382.5" x2="651.5" y2="1382.5" stroke="#000" stroke-width="1.6"/>
<line x1="65.2" y1="1160.7" x2="75.5" y2="1160.7" stroke="#000" stroke-width="1.4"/>
<line x1="65.2" y1="1271.6" x2="75.5" y2="1271.6" stroke="#000" stroke-width="1.4"/>
<line x1="70" y1="1105.25" x2="75.5" y2="1105.25" stroke="#000" stroke-width="1.4"/>
<line x1="70" y1="1216.15" x2="75.5" y2="1216.15" stroke="#000" stroke-width="1.4"/>
<line x1="70" y1="1327.05" x2="75.5" y2="1327.05" stroke="#000" stroke-width="1.4"/>
<text x="31.53" y="1057.3" font-size="21.3" font-weight="bold" fill="#000">1.5</text>
<text x="31.84" y="1168.2" font-size="21.3" font-weight="bold" fill="#000">1.0</text>
<text x="31.53" y="1279.1" font-size="21.3" font-weight="bold" fill="#000">0.5</text>
<text x="31.84" y="1390" font-size="21.3" font-weight="bold" fill="#000">0.0</text>
<rect x="81.4" y="1160.7" width="11.2" height="221.8" fill="#808080" stroke="#000" stroke-width="1.3"/>
<line x1="87" y1="1148.94" x2="87" y2="1172.46" stroke="#000" stroke-width="1.3"/>
<line x1="83.8" y1="1148.94" x2="90.2" y2="1148.94" stroke="#000" stroke-width="1.3"/>
<line x1="83.8" y1="1172.46" x2="90.2" y2="1172.46" stroke="#000" stroke-width="1.3"/>
<circle cx="87" cy="1138.08" r="2.7" fill="#000"/>
<circle cx="87" cy="1164.47" r="2.7" fill="#000"/>
<circle cx="87" cy="1179.77" r="2.7" fill="#000"/>
<rect x="98.8" y="1118.56" width="11.2" height="263.94" fill="#808080" stroke="#000" stroke-width="1.3"/>
<line x1="104.4" y1="1113.01" x2="104.4" y2="1124.1" stroke="#000" stroke-width="1.3"/>
<line x1="101.2" y1="1113.01" x2="107.6" y2="1113.01" stroke="#000" stroke-width="1.3"/>
<line x1="101.2" y1="1124.1" x2="107.6" y2="1124.1" stroke="#000" stroke-width="1.3"/>
<circle cx="104.4" cy="1108.13" r="2.7" fill="#000"/>
<circle cx="104.4" cy="1115.23" r="2.7" fill="#000"/>
<circle cx="104.4" cy="1129.43" r="2.7" fill="#000"/>
<rect x="116" y="1193.97" width="11.2" height="188.53" fill="#808080" stroke="#000" stroke-width="1.3"/>
<line x1="121.6" y1="1185.1" x2="121.6" y2="1202.84" stroke="#000" stroke-width="1.3"/>
<line x1="118.4" y1="1185.1" x2="124.8" y2="1185.1" stroke="#000" stroke-width="1.3"/>
<line x1="118.4" y1="1202.84" x2="124.8" y2="1202.84" stroke="#000" stroke-width="1.3"/>
<circle cx="121.6" cy="1178" r="2.7" fill="#000"/>
<circle cx="121.6" cy="1195.97" r="2.7" fill="#000"/>
<circle cx="121.6" cy="1207.28" r="2.7" fill="#000"/>
<rect x="133" y="1160.7" width="11.2" height="221.8" fill="#808080" stroke="#000" stroke-width="1.3"/>
<line x1="138.6" y1="1149.17" x2="138.6" y2="1172.23" stroke="#000" stroke-width="1.3"/>
<line x1="135.4" y1="1149.17" x2="141.8" y2="1149.17" stroke="#000" stroke-width="1.3"/>
<line x1="135.4" y1="1172.23" x2="141.8" y2="1172.23" stroke="#000" stroke-width="1.3"/>
<circle cx="138.6" cy="1138.08" r="2.7" fill="#000"/>
<circle cx="135.6" cy="1173.79" r="2.7" fill="#000"/>
<circle cx="141.1" cy="1169.35" r="2.7" fill="#000"/>
<rect x="150.1" y="1183.99" width="11.2" height="198.51" fill="#808080" stroke="#000" stroke-width="1.3"/>
<line x1="155.7" y1="1180" x2="155.7" y2="1187.98" stroke="#000" stroke-width="1.3"/>
<line x1="152.5" y1="1180" x2="158.9" y2="1180" stroke="#000" stroke-width="1.3"/>
<line x1="152.5" y1="1187.98" x2="158.9" y2="1187.98" stroke="#000" stroke-width="1.3"/>
<circle cx="155.7" cy="1177.34" r="2.7" fill="#000"/>
<circle cx="152.5" cy="1187.54" r="2.7" fill="#000"/>
<circle cx="158.8" cy="1184.88" r="2.7" fill="#000"/>
<rect x="179" y="1380.28" width="10.6" height="2.22" fill="#808080" stroke="#000" stroke-width="1.3"/>
<circle cx="181.3" cy="1379.84" r="2.7" fill="#000"/>
<circle cx="184.3" cy="1380.5" r="2.7" fill="#000"/>
<circle cx="187.3" cy="1380.73" r="2.7" fill="#000"/>
<rect x="196" y="1381.17" width="10.6" height="1.33" fill="#808080" stroke="#000" stroke-width="1.3"/>
<circle cx="198.3" cy="1381.39" r="2.7" fill="#000"/>
<circle cx="201.3" cy="1380.95" r="2.7" fill="#000"/>
<circle cx="204.3" cy="1381.61" r="2.7" fill="#000"/>
<rect x="213" y="1377.62" width="10.6" height="4.88" fill="#808080" stroke="#000" stroke-width="1.3"/>
<line x1="218.3" y1="1376.73" x2="218.3" y2="1378.51" stroke="#000" stroke-width="1.3"/>
<line x1="215.1" y1="1376.73" x2="221.5" y2="1376.73" stroke="#000" stroke-width="1.3"/>
<line x1="215.1" y1="1378.51" x2="221.5" y2="1378.51" stroke="#000" stroke-width="1.3"/>
<circle cx="215.3" cy="1376.29" r="2.7" fill="#000"/>
<circle cx="218.3" cy="1378.06" r="2.7" fill="#000"/>
<circle cx="221.3" cy="1378.51" r="2.7" fill="#000"/>
<rect x="230" y="1379.39" width="10.6" height="3.11" fill="#808080" stroke="#000" stroke-width="1.3"/>
<circle cx="232.3" cy="1378.95" r="2.7" fill="#000"/>
<circle cx="235.3" cy="1379.84" r="2.7" fill="#000"/>
<circle cx="238.3" cy="1379.62" r="2.7" fill="#000"/>
<rect x="275.5" y="1379.84" width="10.6" height="2.66" fill="#808080" stroke="#000" stroke-width="1.3"/>
<circle cx="277.8" cy="1379.39" r="2.7" fill="#000"/>
<circle cx="280.8" cy="1380.06" r="2.7" fill="#000"/>
<circle cx="283.8" cy="1380.28" r="2.7" fill="#000"/>
<rect x="292.5" y="1378.95" width="10.6" height="3.55" fill="#808080" stroke="#000" stroke-width="1.3"/>
<circle cx="294.8" cy="1378.51" r="2.7" fill="#000"/>
<circle cx="297.8" cy="1379.17" r="2.7" fill="#000"/>
<circle cx="300.8" cy="1379.39" r="2.7" fill="#000"/>
<rect x="309.5" y="1380.28" width="10.6" height="2.22" fill="#808080" stroke="#000" stroke-width="1.3"/>
<circle cx="311.8" cy="1380.06" r="2.7" fill="#000"/>
<circle cx="314.8" cy="1380.5" r="2.7" fill="#000"/>
<circle cx="317.8" cy="1380.5" r="2.7" fill="#000"/>
<rect x="326.5" y="1378.06" width="10.6" height="4.44" fill="#808080" stroke="#000" stroke-width="1.3"/>
<line x1="331.8" y1="1377.18" x2="331.8" y2="1378.95" stroke="#000" stroke-width="1.3"/>
<line x1="328.6" y1="1377.18" x2="335" y2="1377.18" stroke="#000" stroke-width="1.3"/>
<line x1="328.6" y1="1378.95" x2="335" y2="1378.95" stroke="#000" stroke-width="1.3"/>
<circle cx="328.8" cy="1376.51" r="2.7" fill="#000"/>
<circle cx="331.8" cy="1378.73" r="2.7" fill="#000"/>
<circle cx="334.8" cy="1378.95" r="2.7" fill="#000"/>
<rect x="372" y="1347.46" width="10.6" height="35.04" fill="#808080" stroke="#000" stroke-width="1.3"/>
<line x1="377.3" y1="1345.24" x2="377.3" y2="1349.67" stroke="#000" stroke-width="1.3"/>
<line x1="374.1" y1="1345.24" x2="380.5" y2="1345.24" stroke="#000" stroke-width="1.3"/>
<line x1="374.1" y1="1349.67" x2="380.5" y2="1349.67" stroke="#000" stroke-width="1.3"/>
<circle cx="377.3" cy="1343.68" r="2.7" fill="#000"/>
<circle cx="374.7" cy="1349.23" r="2.7" fill="#000"/>
<circle cx="379.9" cy="1349.23" r="2.7" fill="#000"/>
<rect x="389" y="1356.99" width="10.6" height="25.51" fill="#808080" stroke="#000" stroke-width="1.3"/>
<line x1="394.3" y1="1354.33" x2="394.3" y2="1359.65" stroke="#000" stroke-width="1.3"/>
<line x1="391.1" y1="1354.33" x2="397.5" y2="1354.33" stroke="#000" stroke-width="1.3"/>
<line x1="391.1" y1="1359.65" x2="397.5" y2="1359.65" stroke="#000" stroke-width="1.3"/>
<circle cx="394.3" cy="1351.45" r="2.7" fill="#000"/>
<circle cx="391.7" cy="1359.21" r="2.7" fill="#000"/>
<circle cx="396.9" cy="1360.32" r="2.7" fill="#000"/>
<rect x="406" y="1354.55" width="10.6" height="27.95" fill="#808080" stroke="#000" stroke-width="1.3"/>
<line x1="411.3" y1="1353.44" x2="411.3" y2="1355.66" stroke="#000" stroke-width="1.3"/>
<line x1="408.1" y1="1353.44" x2="414.5" y2="1353.44" stroke="#000" stroke-width="1.3"/>
<line x1="408.1" y1="1355.66" x2="414.5" y2="1355.66" stroke="#000" stroke-width="1.3"/>
<circle cx="408.3" cy="1352.56" r="2.7" fill="#000"/>
<circle cx="411.3" cy="1354.78" r="2.7" fill="#000"/>
<circle cx="414.3" cy="1355.88" r="2.7" fill="#000"/>
<rect x="423" y="1364.98" width="10.6" height="17.52" fill="#808080" stroke="#000" stroke-width="1.3"/>
<line x1="428.3" y1="1362.76" x2="428.3" y2="1367.2" stroke="#000" stroke-width="1.3"/>
<line x1="425.1" y1="1362.76" x2="431.5" y2="1362.76" stroke="#000" stroke-width="1.3"/>
<line x1="425.1" y1="1367.2" x2="431.5" y2="1367.2" stroke="#000" stroke-width="1.3"/>
<circle cx="428.3" cy="1360.32" r="2.7" fill="#000"/>
<circle cx="425.7" cy="1366.97" r="2.7" fill="#000"/>
<circle cx="430.9" cy="1367.42" r="2.7" fill="#000"/>
<rect x="469.3" y="1380.28" width="10.6" height="2.22" fill="#808080" stroke="#000" stroke-width="1.3"/>
<circle cx="471.6" cy="1380.06" r="2.7" fill="#000"/>
<circle cx="474.6" cy="1380.5" r="2.7" fill="#000"/>
<circle cx="477.6" cy="1380.5" r="2.7" fill="#000"/>
<rect x="486.3" y="1378.51" width="10.6" height="3.99" fill="#808080" stroke="#000" stroke-width="1.3"/>
<circle cx="488.6" cy="1377.62" r="2.7" fill="#000"/>
<circle cx="491.6" cy="1378.95" r="2.7" fill="#000"/>
<circle cx="494.6" cy="1379.17" r="2.7" fill="#000"/>
<rect x="503.3" y="1379.39" width="10.6" height="3.11" fill="#808080" stroke="#000" stroke-width="1.3"/>
<circle cx="505.6" cy="1378.95" r="2.7" fill="#000"/>
<circle cx="508.6" cy="1379.62" r="2.7" fill="#000"/>
<circle cx="511.6" cy="1379.84" r="2.7" fill="#000"/>
<rect x="520.3" y="1381.61" width="10.6" height="0.89" fill="#808080" stroke="#000" stroke-width="1.3"/>
<circle cx="522.6" cy="1381.39" r="2.7" fill="#000"/>
<circle cx="525.6" cy="1381.61" r="2.7" fill="#000"/>
<circle cx="528.6" cy="1381.83" r="2.7" fill="#000"/>
<rect x="565.5" y="1362.98" width="10.6" height="19.52" fill="#808080" stroke="#000" stroke-width="1.3"/>
<line x1="570.8" y1="1361.65" x2="570.8" y2="1364.31" stroke="#000" stroke-width="1.3"/>
<line x1="567.6" y1="1361.65" x2="574" y2="1361.65" stroke="#000" stroke-width="1.3"/>
<line x1="567.6" y1="1364.31" x2="574" y2="1364.31" stroke="#000" stroke-width="1.3"/>
<circle cx="567.8" cy="1361.21" r="2.7" fill="#000"/>
<circle cx="570.8" cy="1363.43" r="2.7" fill="#000"/>
<circle cx="573.8" cy="1364.31" r="2.7" fill="#000"/>
<rect x="582.5" y="1371.63" width="10.6" height="10.87" fill="#808080" stroke="#000" stroke-width="1.3"/>
<line x1="587.8" y1="1370.74" x2="587.8" y2="1372.52" stroke="#000" stroke-width="1.3"/>
<line x1="584.6" y1="1370.74" x2="591" y2="1370.74" stroke="#000" stroke-width="1.3"/>
<line x1="584.6" y1="1372.52" x2="591" y2="1372.52" stroke="#000" stroke-width="1.3"/>
<circle cx="584.8" cy="1370.3" r="2.7" fill="#000"/>
<circle cx="587.8" cy="1372.08" r="2.7" fill="#000"/>
<circle cx="590.8" cy="1372.52" r="2.7" fill="#000"/>
<rect x="599.5" y="1381.39" width="10.6" height="1.11" fill="#808080" stroke="#000" stroke-width="1.3"/>
<circle cx="601.8" cy="1381.17" r="2.7" fill="#000"/>
<circle cx="604.8" cy="1381.39" r="2.7" fill="#000"/>
<circle cx="607.8" cy="1381.61" r="2.7" fill="#000"/>
<rect x="616.5" y="1256.74" width="10.6" height="125.76" fill="#808080" stroke="#000" stroke-width="1.3"/>
<line x1="621.8" y1="1255.41" x2="621.8" y2="1258.07" stroke="#000" stroke-width="1.3"/>
<line x1="618.6" y1="1255.41" x2="625" y2="1255.41" stroke="#000" stroke-width="1.3"/>
<line x1="618.6" y1="1258.07" x2="625" y2="1258.07" stroke="#000" stroke-width="1.3"/>
<circle cx="618.8" cy="1254.3" r="2.7" fill="#000"/>
<circle cx="621.8" cy="1257.85" r="2.7" fill="#000"/>
<circle cx="624.8" cy="1258.29" r="2.7" fill="#000"/>
<text x="99.06" y="1413" font-size="22.3" font-style="italic" fill="#000">fwa</text>
<text transform="translate(175.61,1413) scale(1.0400,1)" font-size="22.3" fill="#000">MOM1</text>
<text transform="translate(274.61,1413) scale(1.0400,1)" font-size="22.3" fill="#000">MOM2</text>
<text transform="translate(372.75,1413) scale(1.0400,1)" font-size="22.3" fill="#000">PIAL1</text>
<text transform="translate(470.95,1413) scale(1.0400,1)" font-size="22.3" fill="#000">PIAL2</text>
<text transform="translate(566.59,1413) scale(1.0400,1)" font-size="22.3" fill="#000">PHD1</text>
<line x1="183" y1="1418.25" x2="616.25" y2="1418.25" stroke="#333" stroke-width="1.6"/>
<text transform="translate(299.11,1444.5) scale(1.0450,1)" font-size="22.6" fill="#000">ZF fusion T2 plants</text>
<text transform="translate(23.2,1210) rotate(-90)" font-size="25.8" text-anchor="middle">Relative <tspan font-style="italic">FWA</tspan> mRNA level</text>
<text transform="translate(625.76,37.71) scale(1.0631,1)" font-size="29.09" font-weight="bold" fill="#000">c</text>
<text transform="translate(744.73,47.8) scale(1.0700,1)" font-size="30.4" fill="#000">region1</text>
<text transform="translate(970.43,47.8) scale(1.1050,1)" font-size="30.4" fill="#000">region2</text>
<text transform="translate(1184.82,47.8) scale(1.1000,1)" font-size="30.4" fill="#000">region3</text>
<rect x="705.65" y="159.84" width="1.5" height="1.96" fill="#2166ac"/>
<rect x="716.75" y="147.12" width="1.5" height="14.69" fill="#2166ac"/>
<rect x="725.25" y="154.95" width="1.5" height="6.85" fill="#2166ac"/>
<rect x="727.75" y="159.84" width="1.5" height="1.96" fill="#2166ac"/>
<rect x="737.75" y="158.86" width="1.5" height="2.94" fill="#2166ac"/>
<rect x="745.55" y="159.84" width="1.5" height="1.96" fill="#2166ac"/>
<rect x="768.05" y="155.93" width="1.5" height="5.87" fill="#2166ac"/>
<rect x="774.25" y="157.88" width="1.5" height="3.92" fill="#2166ac"/>
<rect x="775.85" y="157.88" width="1.5" height="3.92" fill="#2166ac"/>
<rect x="798.95" y="151.03" width="1.5" height="10.77" fill="#2166ac"/>
<rect x="801.55" y="148.09" width="1.5" height="13.71" fill="#2166ac"/>
<rect x="807.65" y="147.12" width="1.5" height="14.69" fill="#2166ac"/>
<rect x="809.05" y="138.3" width="1.5" height="23.5" fill="#2166ac"/>
<rect x="810.25" y="156.91" width="1.5" height="4.9" fill="#2166ac"/>
<rect x="817.35" y="144.18" width="1.5" height="17.62" fill="#2166ac"/>
<rect x="813.65" y="78.59" width="1.5" height="83.22" fill="#d73027"/>
<rect x="836.75" y="76.63" width="1.5" height="85.17" fill="#d73027"/>
<rect x="840.55" y="73.69" width="1.5" height="88.11" fill="#d73027"/>
<rect x="817" y="65.3" width="20.8" height="96.8" fill="#ee6a55" fill-opacity="0.21"/>
<rect x="872" y="65.3" width="21" height="96.8" fill="#ee6a55" fill-opacity="0.21"/>
<rect x="934.15" y="137.33" width="1.5" height="24.48" fill="#2166ac"/>
<rect x="936.15" y="160.82" width="1.5" height="0.98" fill="#2166ac"/>
<rect x="945.45" y="154.95" width="1.5" height="6.85" fill="#2166ac"/>
<rect x="963.15" y="151.03" width="1.5" height="10.77" fill="#2166ac"/>
<rect x="964.45" y="157.88" width="1.5" height="3.92" fill="#2166ac"/>
<rect x="972.75" y="155.93" width="1.5" height="5.87" fill="#2166ac"/>
<rect x="975.65" y="155.93" width="1.5" height="5.87" fill="#2166ac"/>
<rect x="984.95" y="152.99" width="1.5" height="8.81" fill="#2166ac"/>
<rect x="986.55" y="153.97" width="1.5" height="7.83" fill="#2166ac"/>
<rect x="990.45" y="146.14" width="1.5" height="15.66" fill="#2166ac"/>
<rect x="998.75" y="141.24" width="1.5" height="20.56" fill="#2166ac"/>
<rect x="1000.45" y="145.16" width="1.5" height="16.64" fill="#2166ac"/>
<rect x="1004.35" y="140.26" width="1.5" height="21.54" fill="#2166ac"/>
<rect x="1014.25" y="132.43" width="1.5" height="29.37" fill="#2166ac"/>
<rect x="1049.45" y="152.01" width="1.5" height="9.79" fill="#2166ac"/>
<rect x="1086.35" y="157.88" width="1.5" height="3.92" fill="#2166ac"/>
<rect x="1089.55" y="156.91" width="1.5" height="4.9" fill="#2166ac"/>
<rect x="1091.55" y="159.84" width="1.5" height="1.96" fill="#2166ac"/>
<rect x="1100.25" y="122.64" width="1.5" height="39.16" fill="#1b7837"/>
<rect x="1111.25" y="154.95" width="1.5" height="6.85" fill="#1b7837"/>
<rect x="922.05" y="87.4" width="1.5" height="74.4" fill="#d73027"/>
<rect x="926.05" y="76.63" width="1.5" height="85.17" fill="#d73027"/>
<rect x="954.85" y="76.63" width="1.5" height="85.17" fill="#d73027"/>
<rect x="1068.55" y="80.54" width="1.5" height="81.26" fill="#d73027"/>
<rect x="1079.65" y="74.67" width="1.5" height="87.13" fill="#d73027"/>
<rect x="1168.05" y="155.93" width="1.5" height="5.87" fill="#2166ac"/>
<rect x="1188.05" y="152.01" width="1.5" height="9.79" fill="#2166ac"/>
<rect x="1189.65" y="158.86" width="1.5" height="2.94" fill="#2166ac"/>
<rect x="1198.95" y="158.86" width="1.5" height="2.94" fill="#2166ac"/>
<rect x="1201.85" y="155.93" width="1.5" height="5.87" fill="#2166ac"/>
<rect x="1212.55" y="153.97" width="1.5" height="7.83" fill="#2166ac"/>
<rect x="1214.35" y="154.95" width="1.5" height="6.85" fill="#2166ac"/>
<rect x="1219.05" y="152.01" width="1.5" height="9.79" fill="#2166ac"/>
<rect x="1227.95" y="144.18" width="1.5" height="17.62" fill="#2166ac"/>
<rect x="1229.65" y="147.12" width="1.5" height="14.69" fill="#2166ac"/>
<rect x="1234.15" y="144.18" width="1.5" height="17.62" fill="#2166ac"/>
<rect x="1245.05" y="135.37" width="1.5" height="26.43" fill="#2166ac"/>
<rect x="1284.85" y="157.88" width="1.5" height="3.92" fill="#2166ac"/>
<rect x="1324.25" y="156.91" width="1.5" height="4.9" fill="#2166ac"/>
<rect x="1329.15" y="154.95" width="1.5" height="6.85" fill="#2166ac"/>
<rect x="1330.95" y="158.86" width="1.5" height="2.94" fill="#2166ac"/>
<rect x="1158.95" y="150.05" width="1.5" height="11.75" fill="#1b7837"/>
<rect x="1146.65" y="70.75" width="1.5" height="91.05" fill="#d73027"/>
<rect x="1157.35" y="75.65" width="1.5" height="86.15" fill="#d73027"/>
<rect x="1179.15" y="70.75" width="1.5" height="91.05" fill="#d73027"/>
<rect x="1194.35" y="74.67" width="1.5" height="87.13" fill="#d73027"/>
<rect x="1304.65" y="102.08" width="1.5" height="59.72" fill="#d73027"/>
<rect x="1317.15" y="86.42" width="1.5" height="75.38" fill="#d73027"/>
<rect x="691.5" y="62.3" width="209.9" height="103" fill="none" stroke="#333333" stroke-width="2.7"/>
<rect x="911.1" y="62.3" width="210.3" height="103" fill="none" stroke="#333333" stroke-width="2.7"/>
<rect x="1131" y="62.3" width="209.8" height="103" fill="none" stroke="#333333" stroke-width="2.7"/>
<line x1="683.5" y1="63.9" x2="691.5" y2="63.9" stroke="#333333" stroke-width="3.3"/>
<line x1="683.5" y1="161.8" x2="691.5" y2="161.8" stroke="#333333" stroke-width="3.3"/>
<text transform="translate(663.54,75.1) scale(0.9200,1)" font-size="27.2" fill="#000">1</text>
<text transform="translate(666.07,162.2) scale(1.1400,1)" font-size="26.2" fill="#000">0</text>
<rect x="705.65" y="271.92" width="1.5" height="0.98" fill="#2166ac"/>
<rect x="716.75" y="271.43" width="1.5" height="1.47" fill="#2166ac"/>
<rect x="725.25" y="271.92" width="1.5" height="0.98" fill="#2166ac"/>
<rect x="727.75" y="271.92" width="1.5" height="0.98" fill="#2166ac"/>
<rect x="737.75" y="271.92" width="1.5" height="0.98" fill="#2166ac"/>
<rect x="745.55" y="271.92" width="1.5" height="0.98" fill="#2166ac"/>
<rect x="768.05" y="271.92" width="1.5" height="0.98" fill="#2166ac"/>
<rect x="774.25" y="271.92" width="1.5" height="0.98" fill="#2166ac"/>
<rect x="775.85" y="271.92" width="1.5" height="0.98" fill="#2166ac"/>
<rect x="798.95" y="271.92" width="1.5" height="0.98" fill="#2166ac"/>
<rect x="801.55" y="271.43" width="1.5" height="1.47" fill="#2166ac"/>
<rect x="807.65" y="271.92" width="1.5" height="0.98" fill="#2166ac"/>
<rect x="809.05" y="271.43" width="1.5" height="1.47" fill="#2166ac"/>
<rect x="810.25" y="271.92" width="1.5" height="0.98" fill="#2166ac"/>
<rect x="817.35" y="271.92" width="1.5" height="0.98" fill="#2166ac"/>
<rect x="813.65" y="271.92" width="1.5" height="0.98" fill="#d73027"/>
<rect x="836.75" y="271.92" width="1.5" height="0.98" fill="#d73027"/>
<rect x="840.55" y="271.92" width="1.5" height="0.98" fill="#d73027"/>
<rect x="817" y="176.2" width="20.8" height="97" fill="#ee6a55" fill-opacity="0.21"/>
<rect x="872" y="176.2" width="21" height="97" fill="#ee6a55" fill-opacity="0.21"/>
<rect x="934.15" y="271.92" width="1.5" height="0.98" fill="#2166ac"/>
<rect x="936.15" y="271.92" width="1.5" height="0.98" fill="#2166ac"/>
<rect x="945.45" y="271.92" width="1.5" height="0.98" fill="#2166ac"/>
<rect x="963.15" y="271.92" width="1.5" height="0.98" fill="#2166ac"/>
<rect x="964.45" y="271.92" width="1.5" height="0.98" fill="#2166ac"/>
<rect x="972.75" y="271.92" width="1.5" height="0.98" fill="#2166ac"/>
<rect x="975.65" y="271.92" width="1.5" height="0.98" fill="#2166ac"/>
<rect x="984.95" y="271.92" width="1.5" height="0.98" fill="#2166ac"/>
<rect x="986.55" y="271.92" width="1.5" height="0.98" fill="#2166ac"/>
<rect x="990.45" y="271.92" width="1.5" height="0.98" fill="#2166ac"/>
<rect x="998.75" y="271.92" width="1.5" height="0.98" fill="#2166ac"/>
<rect x="1000.45" y="271.92" width="1.5" height="0.98" fill="#2166ac"/>
<rect x="1004.35" y="271.92" width="1.5" height="0.98" fill="#2166ac"/>
<rect x="1014.25" y="271.92" width="1.5" height="0.98" fill="#2166ac"/>
<rect x="1049.45" y="271.92" width="1.5" height="0.98" fill="#2166ac"/>
<rect x="1086.35" y="271.92" width="1.5" height="0.98" fill="#2166ac"/>
<rect x="1089.55" y="271.92" width="1.5" height="0.98" fill="#2166ac"/>
<rect x="1091.55" y="271.92" width="1.5" height="0.98" fill="#2166ac"/>
<rect x="1100.25" y="271.92" width="1.5" height="0.98" fill="#1b7837"/>
<rect x="1111.25" y="271.92" width="1.5" height="0.98" fill="#1b7837"/>
<rect x="922.05" y="271.92" width="1.5" height="0.98" fill="#d73027"/>
<rect x="926.05" y="271.92" width="1.5" height="0.98" fill="#d73027"/>
<rect x="954.85" y="271.92" width="1.5" height="0.98" fill="#d73027"/>
<rect x="1068.55" y="271.92" width="1.5" height="0.98" fill="#d73027"/>
<rect x="1079.65" y="271.92" width="1.5" height="0.98" fill="#d73027"/>
<rect x="1168.05" y="271.92" width="1.5" height="0.98" fill="#2166ac"/>
<rect x="1188.05" y="271.43" width="1.5" height="1.47" fill="#2166ac"/>
<rect x="1189.65" y="271.92" width="1.5" height="0.98" fill="#2166ac"/>
<rect x="1198.95" y="271.92" width="1.5" height="0.98" fill="#2166ac"/>
<rect x="1201.85" y="271.43" width="1.5" height="1.47" fill="#2166ac"/>
<rect x="1212.55" y="271.43" width="1.5" height="1.47" fill="#2166ac"/>
<rect x="1214.35" y="271.92" width="1.5" height="0.98" fill="#2166ac"/>
<rect x="1219.05" y="271.43" width="1.5" height="1.47" fill="#2166ac"/>
<rect x="1227.95" y="270.94" width="1.5" height="1.96" fill="#2166ac"/>
<rect x="1229.65" y="271.43" width="1.5" height="1.47" fill="#2166ac"/>
<rect x="1234.15" y="270.94" width="1.5" height="1.96" fill="#2166ac"/>
<rect x="1245.05" y="270.94" width="1.5" height="1.96" fill="#2166ac"/>
<rect x="1284.85" y="271.92" width="1.5" height="0.98" fill="#2166ac"/>
<rect x="1324.25" y="271.92" width="1.5" height="0.98" fill="#2166ac"/>
<rect x="1329.15" y="271.92" width="1.5" height="0.98" fill="#2166ac"/>
<rect x="1330.95" y="271.92" width="1.5" height="0.98" fill="#2166ac"/>
<rect x="1158.95" y="271.92" width="1.5" height="0.98" fill="#1b7837"/>
<rect x="1146.65" y="271.92" width="1.5" height="0.98" fill="#d73027"/>
<rect x="1157.35" y="271.92" width="1.5" height="0.98" fill="#d73027"/>
<rect x="1179.15" y="271.92" width="1.5" height="0.98" fill="#d73027"/>
<rect x="1194.35" y="271.92" width="1.5" height="0.98" fill="#d73027"/>
<rect x="1304.65" y="271.92" width="1.5" height="0.98" fill="#d73027"/>
<rect x="1317.15" y="271.92" width="1.5" height="0.98" fill="#d73027"/>
<rect x="691.5" y="173.2" width="209.9" height="103.2" fill="none" stroke="#333333" stroke-width="2.7"/>
<rect x="911.1" y="173.2" width="210.3" height="103.2" fill="none" stroke="#333333" stroke-width="2.7"/>
<rect x="1131" y="173.2" width="209.8" height="103.2" fill="none" stroke="#333333" stroke-width="2.7"/>
<line x1="683.5" y1="174.8" x2="691.5" y2="174.8" stroke="#333333" stroke-width="3.3"/>
<line x1="683.5" y1="272.9" x2="691.5" y2="272.9" stroke="#333333" stroke-width="3.3"/>
<text transform="translate(663.54,189) scale(0.9200,1)" font-size="27.2" fill="#000">1</text>
<text transform="translate(666.07,271.2) scale(1.1400,1)" font-size="26.2" fill="#000">0</text>
<rect x="705.65" y="380.95" width="1.5" height="2.95" fill="#2166ac"/>
<rect x="716.75" y="367.19" width="1.5" height="16.71" fill="#2166ac"/>
<rect x="725.25" y="377.02" width="1.5" height="6.88" fill="#2166ac"/>
<rect x="727.75" y="380.95" width="1.5" height="2.95" fill="#2166ac"/>
<rect x="737.75" y="379.97" width="1.5" height="3.93" fill="#2166ac"/>
<rect x="745.55" y="381.93" width="1.5" height="1.97" fill="#2166ac"/>
<rect x="768.05" y="375.05" width="1.5" height="8.85" fill="#2166ac"/>
<rect x="774.25" y="377.02" width="1.5" height="6.88" fill="#2166ac"/>
<rect x="775.85" y="375.05" width="1.5" height="8.85" fill="#2166ac"/>
<rect x="798.95" y="371.12" width="1.5" height="12.78" fill="#2166ac"/>
<rect x="801.55" y="369.15" width="1.5" height="14.74" fill="#2166ac"/>
<rect x="807.65" y="369.15" width="1.5" height="14.74" fill="#2166ac"/>
<rect x="809.05" y="361.29" width="1.5" height="22.61" fill="#2166ac"/>
<rect x="810.25" y="378" width="1.5" height="5.9" fill="#2166ac"/>
<rect x="817.35" y="368.17" width="1.5" height="15.73" fill="#2166ac"/>
<rect x="813.65" y="295.43" width="1.5" height="88.47" fill="#d73027"/>
<rect x="836.75" y="295.43" width="1.5" height="88.47" fill="#d73027"/>
<rect x="840.55" y="291.5" width="1.5" height="92.4" fill="#d73027"/>
<rect x="817" y="287" width="20.8" height="97.2" fill="#ee6a55" fill-opacity="0.21"/>
<rect x="872" y="287" width="21" height="97.2" fill="#ee6a55" fill-opacity="0.21"/>
<rect x="934.15" y="363.26" width="1.5" height="20.64" fill="#2166ac"/>
<rect x="936.15" y="378" width="1.5" height="5.9" fill="#2166ac"/>
<rect x="945.45" y="375.05" width="1.5" height="8.85" fill="#2166ac"/>
<rect x="963.15" y="370.14" width="1.5" height="13.76" fill="#2166ac"/>
<rect x="964.45" y="375.05" width="1.5" height="8.85" fill="#2166ac"/>
<rect x="972.75" y="372.1" width="1.5" height="11.8" fill="#2166ac"/>
<rect x="975.65" y="371.12" width="1.5" height="12.78" fill="#2166ac"/>
<rect x="984.95" y="373.09" width="1.5" height="10.81" fill="#2166ac"/>
<rect x="986.55" y="367.19" width="1.5" height="16.71" fill="#2166ac"/>
<rect x="990.45" y="365.22" width="1.5" height="18.68" fill="#2166ac"/>
<rect x="998.75" y="350.48" width="1.5" height="33.42" fill="#2166ac"/>
<rect x="1000.45" y="353.43" width="1.5" height="30.47" fill="#2166ac"/>
<rect x="1004.35" y="350.48" width="1.5" height="33.42" fill="#2166ac"/>
<rect x="1014.25" y="343.6" width="1.5" height="40.3" fill="#2166ac"/>
<rect x="1049.45" y="374.07" width="1.5" height="9.83" fill="#2166ac"/>
<rect x="1086.35" y="376.04" width="1.5" height="7.86" fill="#2166ac"/>
<rect x="1089.55" y="379.97" width="1.5" height="3.93" fill="#2166ac"/>
<rect x="1091.55" y="380.95" width="1.5" height="2.95" fill="#2166ac"/>
<rect x="1100.25" y="374.07" width="1.5" height="9.83" fill="#1b7837"/>
<rect x="1111.25" y="380.95" width="1.5" height="2.95" fill="#1b7837"/>
<rect x="922.05" y="327.87" width="1.5" height="56.03" fill="#d73027"/>
<rect x="926.05" y="316.07" width="1.5" height="67.83" fill="#d73027"/>
<rect x="954.85" y="310.18" width="1.5" height="73.72" fill="#d73027"/>
<rect x="1068.55" y="370.14" width="1.5" height="13.76" fill="#d73027"/>
<rect x="1079.65" y="378.98" width="1.5" height="4.91" fill="#d73027"/>
<rect x="1168.05" y="381.93" width="1.5" height="1.97" fill="#2166ac"/>
<rect x="1188.05" y="380.95" width="1.5" height="2.95" fill="#2166ac"/>
<rect x="1189.65" y="381.93" width="1.5" height="1.97" fill="#2166ac"/>
<rect x="1198.95" y="381.93" width="1.5" height="1.97" fill="#2166ac"/>
<rect x="1201.85" y="380.95" width="1.5" height="2.95" fill="#2166ac"/>
<rect x="1212.55" y="380.95" width="1.5" height="2.95" fill="#2166ac"/>
<rect x="1214.35" y="380.95" width="1.5" height="2.95" fill="#2166ac"/>
<rect x="1219.05" y="380.95" width="1.5" height="2.95" fill="#2166ac"/>
<rect x="1227.95" y="378.98" width="1.5" height="4.91" fill="#2166ac"/>
<rect x="1229.65" y="379.97" width="1.5" height="3.93" fill="#2166ac"/>
<rect x="1234.15" y="376.04" width="1.5" height="7.86" fill="#2166ac"/>
<rect x="1245.05" y="374.07" width="1.5" height="9.83" fill="#2166ac"/>
<rect x="1284.85" y="380.95" width="1.5" height="2.95" fill="#2166ac"/>
<rect x="1324.25" y="381.93" width="1.5" height="1.97" fill="#2166ac"/>
<rect x="1329.15" y="381.93" width="1.5" height="1.97" fill="#2166ac"/>
<rect x="1330.95" y="382.92" width="1.5" height="0.98" fill="#2166ac"/>
<rect x="1158.95" y="380.95" width="1.5" height="2.95" fill="#1b7837"/>
<rect x="1146.65" y="378.98" width="1.5" height="4.91" fill="#d73027"/>
<rect x="1157.35" y="381.93" width="1.5" height="1.97" fill="#d73027"/>
<rect x="1179.15" y="376.04" width="1.5" height="7.86" fill="#d73027"/>
<rect x="1194.35" y="374.07" width="1.5" height="9.83" fill="#d73027"/>
<rect x="1304.65" y="381.93" width="1.5" height="1.97" fill="#d73027"/>
<rect x="1317.15" y="382.92" width="1.5" height="0.98" fill="#d73027"/>
<rect x="691.5" y="284" width="209.9" height="103.4" fill="none" stroke="#333333" stroke-width="2.7"/>
<rect x="911.1" y="284" width="210.3" height="103.4" fill="none" stroke="#333333" stroke-width="2.7"/>
<rect x="1131" y="284" width="209.8" height="103.4" fill="none" stroke="#333333" stroke-width="2.7"/>
<line x1="683.5" y1="285.6" x2="691.5" y2="285.6" stroke="#333333" stroke-width="3.3"/>
<line x1="683.5" y1="383.9" x2="691.5" y2="383.9" stroke="#333333" stroke-width="3.3"/>
<text transform="translate(663.54,305.6) scale(0.9200,1)" font-size="27.2" fill="#000">1</text>
<text transform="translate(666.07,383.6) scale(1.1400,1)" font-size="26.2" fill="#000">0</text>
<rect x="705.65" y="491.49" width="1.5" height="2.91" fill="#2166ac"/>
<rect x="716.75" y="487.6" width="1.5" height="6.8" fill="#2166ac"/>
<rect x="725.25" y="488.57" width="1.5" height="5.83" fill="#2166ac"/>
<rect x="727.75" y="490.52" width="1.5" height="3.88" fill="#2166ac"/>
<rect x="737.75" y="491.49" width="1.5" height="2.91" fill="#2166ac"/>
<rect x="745.55" y="488.57" width="1.5" height="5.83" fill="#2166ac"/>
<rect x="768.05" y="485.66" width="1.5" height="8.74" fill="#2166ac"/>
<rect x="774.25" y="487.6" width="1.5" height="6.8" fill="#2166ac"/>
<rect x="775.85" y="482.75" width="1.5" height="11.65" fill="#2166ac"/>
<rect x="798.95" y="478.86" width="1.5" height="15.54" fill="#2166ac"/>
<rect x="801.55" y="474.98" width="1.5" height="19.42" fill="#2166ac"/>
<rect x="807.65" y="476.92" width="1.5" height="17.48" fill="#2166ac"/>
<rect x="809.05" y="470.12" width="1.5" height="24.27" fill="#2166ac"/>
<rect x="810.25" y="487.6" width="1.5" height="6.8" fill="#2166ac"/>
<rect x="817.35" y="474.98" width="1.5" height="19.42" fill="#2166ac"/>
<rect x="813.65" y="441" width="1.5" height="53.4" fill="#d73027"/>
<rect x="836.75" y="448.76" width="1.5" height="45.64" fill="#d73027"/>
<rect x="840.55" y="444.88" width="1.5" height="49.52" fill="#d73027"/>
<rect x="817" y="398.7" width="20.8" height="96" fill="#ee6a55" fill-opacity="0.21"/>
<rect x="872" y="398.7" width="21" height="96" fill="#ee6a55" fill-opacity="0.21"/>
<rect x="934.15" y="492.94" width="1.5" height="1.46" fill="#2166ac"/>
<rect x="936.15" y="493.43" width="1.5" height="0.97" fill="#2166ac"/>
<rect x="945.45" y="493.43" width="1.5" height="0.97" fill="#2166ac"/>
<rect x="963.15" y="492.94" width="1.5" height="1.46" fill="#2166ac"/>
<rect x="964.45" y="493.43" width="1.5" height="0.97" fill="#2166ac"/>
<rect x="972.75" y="493.43" width="1.5" height="0.97" fill="#2166ac"/>
<rect x="975.65" y="492.94" width="1.5" height="1.46" fill="#2166ac"/>
<rect x="984.95" y="493.43" width="1.5" height="0.97" fill="#2166ac"/>
<rect x="986.55" y="492.94" width="1.5" height="1.46" fill="#2166ac"/>
<rect x="990.45" y="492.94" width="1.5" height="1.46" fill="#2166ac"/>
<rect x="998.75" y="492.46" width="1.5" height="1.94" fill="#2166ac"/>
<rect x="1000.45" y="492.94" width="1.5" height="1.46" fill="#2166ac"/>
<rect x="1004.35" y="492.46" width="1.5" height="1.94" fill="#2166ac"/>
<rect x="1014.25" y="492.46" width="1.5" height="1.94" fill="#2166ac"/>
<rect x="1049.45" y="493.43" width="1.5" height="0.97" fill="#2166ac"/>
<rect x="1086.35" y="492.94" width="1.5" height="1.46" fill="#2166ac"/>
<rect x="1089.55" y="493.43" width="1.5" height="0.97" fill="#2166ac"/>
<rect x="1091.55" y="493.43" width="1.5" height="0.97" fill="#2166ac"/>
<rect x="1100.25" y="493.43" width="1.5" height="0.97" fill="#1b7837"/>
<rect x="1111.25" y="493.43" width="1.5" height="0.97" fill="#1b7837"/>
<rect x="922.05" y="493.43" width="1.5" height="0.97" fill="#d73027"/>
<rect x="926.05" y="493.43" width="1.5" height="0.97" fill="#d73027"/>
<rect x="954.85" y="493.43" width="1.5" height="0.97" fill="#d73027"/>
<rect x="1068.55" y="493.43" width="1.5" height="0.97" fill="#d73027"/>
<rect x="1079.65" y="493.43" width="1.5" height="0.97" fill="#d73027"/>
<rect x="1168.05" y="493.43" width="1.5" height="0.97" fill="#2166ac"/>
<rect x="1188.05" y="492.94" width="1.5" height="1.46" fill="#2166ac"/>
<rect x="1189.65" y="493.43" width="1.5" height="0.97" fill="#2166ac"/>
<rect x="1198.95" y="493.43" width="1.5" height="0.97" fill="#2166ac"/>
<rect x="1201.85" y="492.94" width="1.5" height="1.46" fill="#2166ac"/>
<rect x="1212.55" y="492.94" width="1.5" height="1.46" fill="#2166ac"/>
<rect x="1214.35" y="493.43" width="1.5" height="0.97" fill="#2166ac"/>
<rect x="1219.05" y="492.94" width="1.5" height="1.46" fill="#2166ac"/>
<rect x="1227.95" y="492.46" width="1.5" height="1.94" fill="#2166ac"/>
<rect x="1229.65" y="492.94" width="1.5" height="1.46" fill="#2166ac"/>
<rect x="1234.15" y="492.46" width="1.5" height="1.94" fill="#2166ac"/>
<rect x="1245.05" y="492.46" width="1.5" height="1.94" fill="#2166ac"/>
<rect x="1284.85" y="493.43" width="1.5" height="0.97" fill="#2166ac"/>
<rect x="1324.25" y="493.43" width="1.5" height="0.97" fill="#2166ac"/>
<rect x="1329.15" y="493.43" width="1.5" height="0.97" fill="#2166ac"/>
<rect x="1330.95" y="493.43" width="1.5" height="0.97" fill="#2166ac"/>
<rect x="1158.95" y="493.43" width="1.5" height="0.97" fill="#1b7837"/>
<rect x="1146.65" y="493.43" width="1.5" height="0.97" fill="#d73027"/>
<rect x="1157.35" y="493.43" width="1.5" height="0.97" fill="#d73027"/>
<rect x="1179.15" y="493.43" width="1.5" height="0.97" fill="#d73027"/>
<rect x="1194.35" y="493.43" width="1.5" height="0.97" fill="#d73027"/>
<rect x="1304.65" y="493.43" width="1.5" height="0.97" fill="#d73027"/>
<rect x="1317.15" y="493.43" width="1.5" height="0.97" fill="#d73027"/>
<rect x="691.5" y="395.7" width="209.9" height="102.2" fill="none" stroke="#333333" stroke-width="2.7"/>
<rect x="911.1" y="395.7" width="210.3" height="102.2" fill="none" stroke="#333333" stroke-width="2.7"/>
<rect x="1131" y="395.7" width="209.8" height="102.2" fill="none" stroke="#333333" stroke-width="2.7"/>
<line x1="683.5" y1="397.3" x2="691.5" y2="397.3" stroke="#333333" stroke-width="3.3"/>
<line x1="683.5" y1="494.4" x2="691.5" y2="494.4" stroke="#333333" stroke-width="3.3"/>
<text transform="translate(663.54,420.8) scale(0.9200,1)" font-size="27.2" fill="#000">1</text>
<text transform="translate(666.07,494.3) scale(1.1400,1)" font-size="26.2" fill="#000">0</text>
<rect x="699.75" y="598.06" width="1.5" height="8.84" fill="#2166ac"/>
<rect x="705.65" y="602.97" width="1.5" height="3.93" fill="#2166ac"/>
<rect x="716.75" y="587.26" width="1.5" height="19.64" fill="#2166ac"/>
<rect x="725.25" y="598.06" width="1.5" height="8.84" fill="#2166ac"/>
<rect x="727.75" y="601.99" width="1.5" height="4.91" fill="#2166ac"/>
<rect x="737.75" y="601.99" width="1.5" height="4.91" fill="#2166ac"/>
<rect x="745.55" y="601.99" width="1.5" height="4.91" fill="#2166ac"/>
<rect x="768.05" y="594.13" width="1.5" height="12.77" fill="#2166ac"/>
<rect x="774.25" y="595.12" width="1.5" height="11.78" fill="#2166ac"/>
<rect x="775.85" y="591.19" width="1.5" height="15.71" fill="#2166ac"/>
<rect x="798.95" y="589.22" width="1.5" height="17.68" fill="#2166ac"/>
<rect x="801.55" y="584.31" width="1.5" height="22.59" fill="#2166ac"/>
<rect x="807.65" y="584.31" width="1.5" height="22.59" fill="#2166ac"/>
<rect x="809.05" y="576.46" width="1.5" height="30.44" fill="#2166ac"/>
<rect x="810.25" y="599.04" width="1.5" height="7.86" fill="#2166ac"/>
<rect x="817.35" y="584.31" width="1.5" height="22.59" fill="#2166ac"/>
<rect x="813.65" y="523.43" width="1.5" height="83.47" fill="#d73027"/>
<rect x="836.75" y="525.39" width="1.5" height="81.51" fill="#d73027"/>
<rect x="840.55" y="518.52" width="1.5" height="88.38" fill="#d73027"/>
<rect x="817" y="510.1" width="20.8" height="97.1" fill="#ee6a55" fill-opacity="0.21"/>
<rect x="872" y="510.1" width="21" height="97.1" fill="#ee6a55" fill-opacity="0.21"/>
<rect x="934.15" y="601.01" width="1.5" height="5.89" fill="#2166ac"/>
<rect x="936.15" y="605.92" width="1.5" height="0.98" fill="#2166ac"/>
<rect x="945.45" y="604.94" width="1.5" height="1.96" fill="#2166ac"/>
<rect x="963.15" y="603.95" width="1.5" height="2.95" fill="#2166ac"/>
<rect x="964.45" y="605.92" width="1.5" height="0.98" fill="#2166ac"/>
<rect x="972.75" y="604.94" width="1.5" height="1.96" fill="#2166ac"/>
<rect x="975.65" y="603.95" width="1.5" height="2.95" fill="#2166ac"/>
<rect x="984.95" y="604.94" width="1.5" height="1.96" fill="#2166ac"/>
<rect x="986.55" y="603.95" width="1.5" height="2.95" fill="#2166ac"/>
<rect x="990.45" y="602.97" width="1.5" height="3.93" fill="#2166ac"/>
<rect x="998.75" y="601.01" width="1.5" height="5.89" fill="#2166ac"/>
<rect x="1000.45" y="601.01" width="1.5" height="5.89" fill="#2166ac"/>
<rect x="1004.35" y="599.04" width="1.5" height="7.86" fill="#2166ac"/>
<rect x="1014.25" y="596.1" width="1.5" height="10.8" fill="#2166ac"/>
<rect x="1049.45" y="604.94" width="1.5" height="1.96" fill="#2166ac"/>
<rect x="1086.35" y="604.94" width="1.5" height="1.96" fill="#2166ac"/>
<rect x="1089.55" y="605.92" width="1.5" height="0.98" fill="#2166ac"/>
<rect x="1091.55" y="605.92" width="1.5" height="0.98" fill="#2166ac"/>
<rect x="1100.25" y="605.92" width="1.5" height="0.98" fill="#1b7837"/>
<rect x="1111.25" y="605.92" width="1.5" height="0.98" fill="#1b7837"/>
<rect x="922.05" y="604.94" width="1.5" height="1.96" fill="#d73027"/>
<rect x="926.05" y="599.04" width="1.5" height="7.86" fill="#d73027"/>
<rect x="954.85" y="595.12" width="1.5" height="11.78" fill="#d73027"/>
<rect x="1068.55" y="605.92" width="1.5" height="0.98" fill="#d73027"/>
<rect x="1079.65" y="605.92" width="1.5" height="0.98" fill="#d73027"/>
<rect x="1168.05" y="605.92" width="1.5" height="0.98" fill="#2166ac"/>
<rect x="1188.05" y="605.43" width="1.5" height="1.47" fill="#2166ac"/>
<rect x="1189.65" y="605.92" width="1.5" height="0.98" fill="#2166ac"/>
<rect x="1198.95" y="605.92" width="1.5" height="0.98" fill="#2166ac"/>
<rect x="1201.85" y="605.43" width="1.5" height="1.47" fill="#2166ac"/>
<rect x="1212.55" y="605.43" width="1.5" height="1.47" fill="#2166ac"/>
<rect x="1214.35" y="605.92" width="1.5" height="0.98" fill="#2166ac"/>
<rect x="1219.05" y="605.43" width="1.5" height="1.47" fill="#2166ac"/>
<rect x="1227.95" y="604.94" width="1.5" height="1.96" fill="#2166ac"/>
<rect x="1229.65" y="605.43" width="1.5" height="1.47" fill="#2166ac"/>
<rect x="1234.15" y="604.94" width="1.5" height="1.96" fill="#2166ac"/>
<rect x="1245.05" y="604.94" width="1.5" height="1.96" fill="#2166ac"/>
<rect x="1284.85" y="605.92" width="1.5" height="0.98" fill="#2166ac"/>
<rect x="1324.25" y="605.92" width="1.5" height="0.98" fill="#2166ac"/>
<rect x="1329.15" y="605.92" width="1.5" height="0.98" fill="#2166ac"/>
<rect x="1330.95" y="605.92" width="1.5" height="0.98" fill="#2166ac"/>
<rect x="1158.95" y="605.92" width="1.5" height="0.98" fill="#1b7837"/>
<rect x="1146.65" y="605.92" width="1.5" height="0.98" fill="#d73027"/>
<rect x="1157.35" y="605.92" width="1.5" height="0.98" fill="#d73027"/>
<rect x="1179.15" y="605.92" width="1.5" height="0.98" fill="#d73027"/>
<rect x="1194.35" y="605.92" width="1.5" height="0.98" fill="#d73027"/>
<rect x="1304.65" y="605.92" width="1.5" height="0.98" fill="#d73027"/>
<rect x="1317.15" y="605.92" width="1.5" height="0.98" fill="#d73027"/>
<rect x="691.5" y="507.1" width="209.9" height="103.3" fill="none" stroke="#333333" stroke-width="2.7"/>
<rect x="911.1" y="507.1" width="210.3" height="103.3" fill="none" stroke="#333333" stroke-width="2.7"/>
<rect x="1131" y="507.1" width="209.8" height="103.3" fill="none" stroke="#333333" stroke-width="2.7"/>
<line x1="683.5" y1="508.7" x2="691.5" y2="508.7" stroke="#333333" stroke-width="3.3"/>
<line x1="683.5" y1="606.9" x2="691.5" y2="606.9" stroke="#333333" stroke-width="3.3"/>
<text transform="translate(663.54,528.6) scale(0.9200,1)" font-size="27.2" fill="#000">1</text>
<text transform="translate(666.07,606.5) scale(1.1400,1)" font-size="26.2" fill="#000">0</text>
<rect x="705.65" y="714.06" width="1.5" height="2.94" fill="#2166ac"/>
<rect x="716.75" y="705.25" width="1.5" height="11.75" fill="#2166ac"/>
<rect x="725.25" y="712.11" width="1.5" height="4.89" fill="#2166ac"/>
<rect x="727.75" y="714.06" width="1.5" height="2.94" fill="#2166ac"/>
<rect x="737.75" y="714.06" width="1.5" height="2.94" fill="#2166ac"/>
<rect x="745.55" y="713.08" width="1.5" height="3.92" fill="#2166ac"/>
<rect x="768.05" y="706.23" width="1.5" height="10.77" fill="#2166ac"/>
<rect x="774.25" y="707.21" width="1.5" height="9.79" fill="#2166ac"/>
<rect x="775.85" y="701.34" width="1.5" height="15.66" fill="#2166ac"/>
<rect x="798.95" y="698.4" width="1.5" height="18.6" fill="#2166ac"/>
<rect x="801.55" y="693.5" width="1.5" height="23.5" fill="#2166ac"/>
<rect x="807.65" y="695.46" width="1.5" height="21.54" fill="#2166ac"/>
<rect x="809.05" y="686.65" width="1.5" height="30.35" fill="#2166ac"/>
<rect x="810.25" y="708.19" width="1.5" height="8.81" fill="#2166ac"/>
<rect x="817.35" y="696.44" width="1.5" height="20.56" fill="#2166ac"/>
<rect x="813.65" y="638.68" width="1.5" height="78.32" fill="#d73027"/>
<rect x="836.75" y="639.66" width="1.5" height="77.34" fill="#d73027"/>
<rect x="840.55" y="633.79" width="1.5" height="83.21" fill="#d73027"/>
<rect x="817" y="620.5" width="20.8" height="96.8" fill="#ee6a55" fill-opacity="0.21"/>
<rect x="872" y="620.5" width="21" height="96.8" fill="#ee6a55" fill-opacity="0.21"/>
<rect x="934.15" y="713.08" width="1.5" height="3.92" fill="#2166ac"/>
<rect x="936.15" y="716.02" width="1.5" height="0.98" fill="#2166ac"/>
<rect x="945.45" y="715.04" width="1.5" height="1.96" fill="#2166ac"/>
<rect x="963.15" y="715.04" width="1.5" height="1.96" fill="#2166ac"/>
<rect x="964.45" y="716.02" width="1.5" height="0.98" fill="#2166ac"/>
<rect x="972.75" y="715.04" width="1.5" height="1.96" fill="#2166ac"/>
<rect x="975.65" y="715.04" width="1.5" height="1.96" fill="#2166ac"/>
<rect x="984.95" y="715.04" width="1.5" height="1.96" fill="#2166ac"/>
<rect x="986.55" y="715.04" width="1.5" height="1.96" fill="#2166ac"/>
<rect x="990.45" y="715.04" width="1.5" height="1.96" fill="#2166ac"/>
<rect x="998.75" y="714.06" width="1.5" height="2.94" fill="#2166ac"/>
<rect x="1000.45" y="714.06" width="1.5" height="2.94" fill="#2166ac"/>
<rect x="1004.35" y="714.06" width="1.5" height="2.94" fill="#2166ac"/>
<rect x="1014.25" y="712.11" width="1.5" height="4.89" fill="#2166ac"/>
<rect x="1049.45" y="715.04" width="1.5" height="1.96" fill="#2166ac"/>
<rect x="1086.35" y="716.02" width="1.5" height="0.98" fill="#2166ac"/>
<rect x="1089.55" y="716.02" width="1.5" height="0.98" fill="#2166ac"/>
<rect x="1091.55" y="716.02" width="1.5" height="0.98" fill="#2166ac"/>
<rect x="1100.25" y="716.02" width="1.5" height="0.98" fill="#1b7837"/>
<rect x="1111.25" y="716.02" width="1.5" height="0.98" fill="#1b7837"/>
<rect x="922.05" y="690.57" width="1.5" height="26.43" fill="#d73027"/>
<rect x="926.05" y="702.32" width="1.5" height="14.68" fill="#d73027"/>
<rect x="954.85" y="691.55" width="1.5" height="25.45" fill="#d73027"/>
<rect x="1068.55" y="716.02" width="1.5" height="0.98" fill="#d73027"/>
<rect x="1079.65" y="714.06" width="1.5" height="2.94" fill="#d73027"/>
<rect x="1168.05" y="716.02" width="1.5" height="0.98" fill="#2166ac"/>
<rect x="1188.05" y="715.53" width="1.5" height="1.47" fill="#2166ac"/>
<rect x="1189.65" y="716.02" width="1.5" height="0.98" fill="#2166ac"/>
<rect x="1198.95" y="716.02" width="1.5" height="0.98" fill="#2166ac"/>
<rect x="1201.85" y="715.53" width="1.5" height="1.47" fill="#2166ac"/>
<rect x="1212.55" y="715.53" width="1.5" height="1.47" fill="#2166ac"/>
<rect x="1214.35" y="716.02" width="1.5" height="0.98" fill="#2166ac"/>
<rect x="1219.05" y="715.53" width="1.5" height="1.47" fill="#2166ac"/>
<rect x="1227.95" y="715.04" width="1.5" height="1.96" fill="#2166ac"/>
<rect x="1229.65" y="715.53" width="1.5" height="1.47" fill="#2166ac"/>
<rect x="1234.15" y="715.04" width="1.5" height="1.96" fill="#2166ac"/>
<rect x="1245.05" y="715.04" width="1.5" height="1.96" fill="#2166ac"/>
<rect x="1284.85" y="716.02" width="1.5" height="0.98" fill="#2166ac"/>
<rect x="1324.25" y="716.02" width="1.5" height="0.98" fill="#2166ac"/>
<rect x="1329.15" y="716.02" width="1.5" height="0.98" fill="#2166ac"/>
<rect x="1330.95" y="716.02" width="1.5" height="0.98" fill="#2166ac"/>
<rect x="1158.95" y="716.02" width="1.5" height="0.98" fill="#1b7837"/>
<rect x="1146.65" y="716.02" width="1.5" height="0.98" fill="#d73027"/>
<rect x="1157.35" y="716.02" width="1.5" height="0.98" fill="#d73027"/>
<rect x="1179.15" y="716.02" width="1.5" height="0.98" fill="#d73027"/>
<rect x="1194.35" y="716.02" width="1.5" height="0.98" fill="#d73027"/>
<rect x="1304.65" y="716.02" width="1.5" height="0.98" fill="#d73027"/>
<rect x="1317.15" y="716.02" width="1.5" height="0.98" fill="#d73027"/>
<rect x="691.5" y="617.5" width="209.9" height="103" fill="none" stroke="#333333" stroke-width="2.7"/>
<rect x="911.1" y="617.5" width="210.3" height="103" fill="none" stroke="#333333" stroke-width="2.7"/>
<rect x="1131" y="617.5" width="209.8" height="103" fill="none" stroke="#333333" stroke-width="2.7"/>
<line x1="683.5" y1="619.1" x2="691.5" y2="619.1" stroke="#333333" stroke-width="3.3"/>
<line x1="683.5" y1="717" x2="691.5" y2="717" stroke="#333333" stroke-width="3.3"/>
<text transform="translate(663.54,637.5) scale(0.9200,1)" font-size="27.2" fill="#000">1</text>
<text transform="translate(666.07,714.3) scale(1.1400,1)" font-size="26.2" fill="#000">0</text>
<rect x="705.65" y="821.99" width="1.5" height="4.91" fill="#2166ac"/>
<rect x="716.75" y="817.08" width="1.5" height="9.82" fill="#2166ac"/>
<rect x="725.25" y="819.04" width="1.5" height="7.86" fill="#2166ac"/>
<rect x="727.75" y="820.03" width="1.5" height="6.87" fill="#2166ac"/>
<rect x="737.75" y="822.97" width="1.5" height="3.93" fill="#2166ac"/>
<rect x="745.55" y="819.04" width="1.5" height="7.86" fill="#2166ac"/>
<rect x="768.05" y="811.19" width="1.5" height="15.71" fill="#2166ac"/>
<rect x="774.25" y="813.15" width="1.5" height="13.75" fill="#2166ac"/>
<rect x="775.85" y="804.31" width="1.5" height="22.59" fill="#2166ac"/>
<rect x="798.95" y="804.31" width="1.5" height="22.59" fill="#2166ac"/>
<rect x="801.55" y="796.46" width="1.5" height="30.44" fill="#2166ac"/>
<rect x="807.65" y="800.39" width="1.5" height="26.51" fill="#2166ac"/>
<rect x="809.05" y="791.55" width="1.5" height="35.35" fill="#2166ac"/>
<rect x="810.25" y="813.15" width="1.5" height="13.75" fill="#2166ac"/>
<rect x="817.35" y="800.39" width="1.5" height="26.51" fill="#2166ac"/>
<rect x="813.65" y="747.36" width="1.5" height="79.54" fill="#d73027"/>
<rect x="836.75" y="755.21" width="1.5" height="71.69" fill="#d73027"/>
<rect x="840.55" y="750.3" width="1.5" height="76.6" fill="#d73027"/>
<rect x="817" y="730.1" width="20.8" height="97.1" fill="#ee6a55" fill-opacity="0.21"/>
<rect x="872" y="730.1" width="21" height="97.1" fill="#ee6a55" fill-opacity="0.21"/>
<rect x="934.15" y="825.43" width="1.5" height="1.47" fill="#2166ac"/>
<rect x="936.15" y="825.92" width="1.5" height="0.98" fill="#2166ac"/>
<rect x="945.45" y="825.92" width="1.5" height="0.98" fill="#2166ac"/>
<rect x="963.15" y="825.43" width="1.5" height="1.47" fill="#2166ac"/>
<rect x="964.45" y="825.92" width="1.5" height="0.98" fill="#2166ac"/>
<rect x="972.75" y="825.92" width="1.5" height="0.98" fill="#2166ac"/>
<rect x="975.65" y="825.43" width="1.5" height="1.47" fill="#2166ac"/>
<rect x="984.95" y="825.92" width="1.5" height="0.98" fill="#2166ac"/>
<rect x="986.55" y="825.43" width="1.5" height="1.47" fill="#2166ac"/>
<rect x="990.45" y="825.43" width="1.5" height="1.47" fill="#2166ac"/>
<rect x="998.75" y="824.94" width="1.5" height="1.96" fill="#2166ac"/>
<rect x="1000.45" y="825.43" width="1.5" height="1.47" fill="#2166ac"/>
<rect x="1004.35" y="824.94" width="1.5" height="1.96" fill="#2166ac"/>
<rect x="1014.25" y="824.94" width="1.5" height="1.96" fill="#2166ac"/>
<rect x="1049.45" y="825.92" width="1.5" height="0.98" fill="#2166ac"/>
<rect x="1086.35" y="825.43" width="1.5" height="1.47" fill="#2166ac"/>
<rect x="1089.55" y="825.92" width="1.5" height="0.98" fill="#2166ac"/>
<rect x="1091.55" y="825.92" width="1.5" height="0.98" fill="#2166ac"/>
<rect x="1100.25" y="825.92" width="1.5" height="0.98" fill="#1b7837"/>
<rect x="1111.25" y="825.92" width="1.5" height="0.98" fill="#1b7837"/>
<rect x="922.05" y="825.92" width="1.5" height="0.98" fill="#d73027"/>
<rect x="926.05" y="824.94" width="1.5" height="1.96" fill="#d73027"/>
<rect x="954.85" y="825.92" width="1.5" height="0.98" fill="#d73027"/>
<rect x="1068.55" y="825.92" width="1.5" height="0.98" fill="#d73027"/>
<rect x="1079.65" y="825.92" width="1.5" height="0.98" fill="#d73027"/>
<rect x="1168.05" y="825.92" width="1.5" height="0.98" fill="#2166ac"/>
<rect x="1188.05" y="825.43" width="1.5" height="1.47" fill="#2166ac"/>
<rect x="1189.65" y="825.92" width="1.5" height="0.98" fill="#2166ac"/>
<rect x="1198.95" y="825.92" width="1.5" height="0.98" fill="#2166ac"/>
<rect x="1201.85" y="825.43" width="1.5" height="1.47" fill="#2166ac"/>
<rect x="1212.55" y="825.43" width="1.5" height="1.47" fill="#2166ac"/>
<rect x="1214.35" y="825.92" width="1.5" height="0.98" fill="#2166ac"/>
<rect x="1219.05" y="825.43" width="1.5" height="1.47" fill="#2166ac"/>
<rect x="1227.95" y="824.94" width="1.5" height="1.96" fill="#2166ac"/>
<rect x="1229.65" y="825.43" width="1.5" height="1.47" fill="#2166ac"/>
<rect x="1234.15" y="824.94" width="1.5" height="1.96" fill="#2166ac"/>
<rect x="1245.05" y="824.94" width="1.5" height="1.96" fill="#2166ac"/>
<rect x="1284.85" y="825.92" width="1.5" height="0.98" fill="#2166ac"/>
<rect x="1324.25" y="825.92" width="1.5" height="0.98" fill="#2166ac"/>
<rect x="1329.15" y="825.92" width="1.5" height="0.98" fill="#2166ac"/>
<rect x="1330.95" y="825.92" width="1.5" height="0.98" fill="#2166ac"/>
<rect x="1158.95" y="825.92" width="1.5" height="0.98" fill="#1b7837"/>
<rect x="1146.65" y="825.92" width="1.5" height="0.98" fill="#d73027"/>
<rect x="1157.35" y="825.92" width="1.5" height="0.98" fill="#d73027"/>
<rect x="1179.15" y="825.92" width="1.5" height="0.98" fill="#d73027"/>
<rect x="1194.35" y="825.92" width="1.5" height="0.98" fill="#d73027"/>
<rect x="1304.65" y="825.92" width="1.5" height="0.98" fill="#d73027"/>
<rect x="1317.15" y="825.92" width="1.5" height="0.98" fill="#d73027"/>
<rect x="691.5" y="727.1" width="209.9" height="103.3" fill="none" stroke="#333333" stroke-width="2.7"/>
<rect x="911.1" y="727.1" width="210.3" height="103.3" fill="none" stroke="#333333" stroke-width="2.7"/>
<rect x="1131" y="727.1" width="209.8" height="103.3" fill="none" stroke="#333333" stroke-width="2.7"/>
<line x1="683.5" y1="728.7" x2="691.5" y2="728.7" stroke="#333333" stroke-width="3.3"/>
<line x1="683.5" y1="826.9" x2="691.5" y2="826.9" stroke="#333333" stroke-width="3.3"/>
<text transform="translate(663.54,749.3) scale(0.9200,1)" font-size="27.2" fill="#000">1</text>
<text transform="translate(666.07,827.5) scale(1.1400,1)" font-size="26.2" fill="#000">0</text>
<rect x="705.65" y="934.66" width="1.5" height="2.94" fill="#2166ac"/>
<rect x="716.75" y="931.72" width="1.5" height="5.88" fill="#2166ac"/>
<rect x="725.25" y="932.7" width="1.5" height="4.9" fill="#2166ac"/>
<rect x="727.75" y="933.68" width="1.5" height="3.92" fill="#2166ac"/>
<rect x="737.75" y="934.66" width="1.5" height="2.94" fill="#2166ac"/>
<rect x="745.55" y="931.72" width="1.5" height="5.88" fill="#2166ac"/>
<rect x="768.05" y="929.76" width="1.5" height="7.84" fill="#2166ac"/>
<rect x="774.25" y="929.76" width="1.5" height="7.84" fill="#2166ac"/>
<rect x="775.85" y="926.82" width="1.5" height="10.78" fill="#2166ac"/>
<rect x="798.95" y="925.84" width="1.5" height="11.76" fill="#2166ac"/>
<rect x="801.55" y="921.92" width="1.5" height="15.68" fill="#2166ac"/>
<rect x="807.65" y="925.84" width="1.5" height="11.76" fill="#2166ac"/>
<rect x="809.05" y="918.98" width="1.5" height="18.62" fill="#2166ac"/>
<rect x="810.25" y="931.72" width="1.5" height="5.88" fill="#2166ac"/>
<rect x="817.35" y="922.9" width="1.5" height="14.7" fill="#2166ac"/>
<rect x="813.65" y="881.74" width="1.5" height="55.86" fill="#d73027"/>
<rect x="836.75" y="891.54" width="1.5" height="46.06" fill="#d73027"/>
<rect x="840.55" y="885.66" width="1.5" height="51.94" fill="#d73027"/>
<rect x="817" y="841" width="20.8" height="96.9" fill="#ee6a55" fill-opacity="0.21"/>
<rect x="872" y="841" width="21" height="96.9" fill="#ee6a55" fill-opacity="0.21"/>
<rect x="934.15" y="935.64" width="1.5" height="1.96" fill="#2166ac"/>
<rect x="936.15" y="936.62" width="1.5" height="0.98" fill="#2166ac"/>
<rect x="945.45" y="936.13" width="1.5" height="1.47" fill="#2166ac"/>
<rect x="963.15" y="935.64" width="1.5" height="1.96" fill="#2166ac"/>
<rect x="964.45" y="936.62" width="1.5" height="0.98" fill="#2166ac"/>
<rect x="972.75" y="936.13" width="1.5" height="1.47" fill="#2166ac"/>
<rect x="975.65" y="935.64" width="1.5" height="1.96" fill="#2166ac"/>
<rect x="984.95" y="936.13" width="1.5" height="1.47" fill="#2166ac"/>
<rect x="986.55" y="935.64" width="1.5" height="1.96" fill="#2166ac"/>
<rect x="990.45" y="935.64" width="1.5" height="1.96" fill="#2166ac"/>
<rect x="998.75" y="935.15" width="1.5" height="2.45" fill="#2166ac"/>
<rect x="1000.45" y="935.64" width="1.5" height="1.96" fill="#2166ac"/>
<rect x="1004.35" y="935.15" width="1.5" height="2.45" fill="#2166ac"/>
<rect x="1014.25" y="934.66" width="1.5" height="2.94" fill="#2166ac"/>
<rect x="1049.45" y="936.13" width="1.5" height="1.47" fill="#2166ac"/>
<rect x="1086.35" y="935.64" width="1.5" height="1.96" fill="#2166ac"/>
<rect x="1089.55" y="936.62" width="1.5" height="0.98" fill="#2166ac"/>
<rect x="1091.55" y="936.62" width="1.5" height="0.98" fill="#2166ac"/>
<rect x="1100.25" y="936.62" width="1.5" height="0.98" fill="#1b7837"/>
<rect x="1111.25" y="936.62" width="1.5" height="0.98" fill="#1b7837"/>
<rect x="922.05" y="935.64" width="1.5" height="1.96" fill="#d73027"/>
<rect x="926.05" y="933.68" width="1.5" height="3.92" fill="#d73027"/>
<rect x="954.85" y="931.72" width="1.5" height="5.88" fill="#d73027"/>
<rect x="1068.55" y="936.62" width="1.5" height="0.98" fill="#d73027"/>
<rect x="1079.65" y="936.13" width="1.5" height="1.47" fill="#d73027"/>
<rect x="1168.05" y="936.62" width="1.5" height="0.98" fill="#2166ac"/>
<rect x="1188.05" y="936.13" width="1.5" height="1.47" fill="#2166ac"/>
<rect x="1189.65" y="936.62" width="1.5" height="0.98" fill="#2166ac"/>
<rect x="1198.95" y="936.62" width="1.5" height="0.98" fill="#2166ac"/>
<rect x="1201.85" y="936.13" width="1.5" height="1.47" fill="#2166ac"/>
<rect x="1212.55" y="936.13" width="1.5" height="1.47" fill="#2166ac"/>
<rect x="1214.35" y="936.62" width="1.5" height="0.98" fill="#2166ac"/>
<rect x="1219.05" y="936.13" width="1.5" height="1.47" fill="#2166ac"/>
<rect x="1227.95" y="935.64" width="1.5" height="1.96" fill="#2166ac"/>
<rect x="1229.65" y="936.13" width="1.5" height="1.47" fill="#2166ac"/>
<rect x="1234.15" y="935.64" width="1.5" height="1.96" fill="#2166ac"/>
<rect x="1245.05" y="935.64" width="1.5" height="1.96" fill="#2166ac"/>
<rect x="1284.85" y="936.62" width="1.5" height="0.98" fill="#2166ac"/>
<rect x="1324.25" y="936.62" width="1.5" height="0.98" fill="#2166ac"/>
<rect x="1329.15" y="936.62" width="1.5" height="0.98" fill="#2166ac"/>
<rect x="1330.95" y="936.62" width="1.5" height="0.98" fill="#2166ac"/>
<rect x="1158.95" y="936.62" width="1.5" height="0.98" fill="#1b7837"/>
<rect x="1146.65" y="936.62" width="1.5" height="0.98" fill="#d73027"/>
<rect x="1157.35" y="936.62" width="1.5" height="0.98" fill="#d73027"/>
<rect x="1179.15" y="936.62" width="1.5" height="0.98" fill="#d73027"/>
<rect x="1194.35" y="936.62" width="1.5" height="0.98" fill="#d73027"/>
<rect x="1304.65" y="936.62" width="1.5" height="0.98" fill="#d73027"/>
<rect x="1317.15" y="936.62" width="1.5" height="0.98" fill="#d73027"/>
<rect x="691.5" y="838" width="209.9" height="103.1" fill="none" stroke="#333333" stroke-width="2.7"/>
<rect x="911.1" y="838" width="210.3" height="103.1" fill="none" stroke="#333333" stroke-width="2.7"/>
<rect x="1131" y="838" width="209.8" height="103.1" fill="none" stroke="#333333" stroke-width="2.7"/>
<line x1="683.5" y1="839.6" x2="691.5" y2="839.6" stroke="#333333" stroke-width="3.3"/>
<line x1="683.5" y1="937.6" x2="691.5" y2="937.6" stroke="#333333" stroke-width="3.3"/>
<text transform="translate(663.54,861) scale(0.9200,1)" font-size="27.2" fill="#000">1</text>
<text transform="translate(666.07,939.1) scale(1.1400,1)" font-size="26.2" fill="#000">0</text>
<rect x="705.65" y="1045.75" width="1.5" height="3.95" fill="#2166ac"/>
<rect x="716.75" y="1030.93" width="1.5" height="18.77" fill="#2166ac"/>
<rect x="725.25" y="1040.81" width="1.5" height="8.89" fill="#2166ac"/>
<rect x="727.75" y="1044.76" width="1.5" height="4.94" fill="#2166ac"/>
<rect x="737.75" y="1044.76" width="1.5" height="4.94" fill="#2166ac"/>
<rect x="745.55" y="1045.75" width="1.5" height="3.95" fill="#2166ac"/>
<rect x="768.05" y="1037.84" width="1.5" height="11.86" fill="#2166ac"/>
<rect x="774.25" y="1038.83" width="1.5" height="10.87" fill="#2166ac"/>
<rect x="775.85" y="1035.87" width="1.5" height="13.83" fill="#2166ac"/>
<rect x="798.95" y="1030.93" width="1.5" height="18.77" fill="#2166ac"/>
<rect x="801.55" y="1027.96" width="1.5" height="21.74" fill="#2166ac"/>
<rect x="807.65" y="1027.96" width="1.5" height="21.74" fill="#2166ac"/>
<rect x="809.05" y="1017.1" width="1.5" height="32.6" fill="#2166ac"/>
<rect x="810.25" y="1040.81" width="1.5" height="8.89" fill="#2166ac"/>
<rect x="817.35" y="1026.98" width="1.5" height="22.72" fill="#2166ac"/>
<rect x="813.65" y="963.74" width="1.5" height="85.96" fill="#d73027"/>
<rect x="836.75" y="962.76" width="1.5" height="86.94" fill="#d73027"/>
<rect x="840.55" y="958.8" width="1.5" height="90.9" fill="#d73027"/>
<rect x="817" y="952.3" width="20.8" height="97.7" fill="#ee6a55" fill-opacity="0.21"/>
<rect x="872" y="952.3" width="21" height="97.7" fill="#ee6a55" fill-opacity="0.21"/>
<rect x="934.15" y="1033.89" width="1.5" height="15.81" fill="#2166ac"/>
<rect x="936.15" y="1044.76" width="1.5" height="4.94" fill="#2166ac"/>
<rect x="945.45" y="1043.77" width="1.5" height="5.93" fill="#2166ac"/>
<rect x="963.15" y="1040.81" width="1.5" height="8.89" fill="#2166ac"/>
<rect x="964.45" y="1044.76" width="1.5" height="4.94" fill="#2166ac"/>
<rect x="972.75" y="1041.8" width="1.5" height="7.9" fill="#2166ac"/>
<rect x="975.65" y="1041.8" width="1.5" height="7.9" fill="#2166ac"/>
<rect x="984.95" y="1040.81" width="1.5" height="8.89" fill="#2166ac"/>
<rect x="986.55" y="1037.84" width="1.5" height="11.86" fill="#2166ac"/>
<rect x="990.45" y="1037.84" width="1.5" height="11.86" fill="#2166ac"/>
<rect x="998.75" y="1027.96" width="1.5" height="21.74" fill="#2166ac"/>
<rect x="1000.45" y="1030.93" width="1.5" height="18.77" fill="#2166ac"/>
<rect x="1004.35" y="1027.96" width="1.5" height="21.74" fill="#2166ac"/>
<rect x="1014.25" y="1025" width="1.5" height="24.7" fill="#2166ac"/>
<rect x="1049.45" y="1042.78" width="1.5" height="6.92" fill="#2166ac"/>
<rect x="1086.35" y="1042.78" width="1.5" height="6.92" fill="#2166ac"/>
<rect x="1089.55" y="1045.75" width="1.5" height="3.95" fill="#2166ac"/>
<rect x="1091.55" y="1047.72" width="1.5" height="1.98" fill="#2166ac"/>
<rect x="1100.25" y="1044.76" width="1.5" height="4.94" fill="#1b7837"/>
<rect x="1111.25" y="1047.72" width="1.5" height="1.98" fill="#1b7837"/>
<rect x="922.05" y="1030.93" width="1.5" height="18.77" fill="#d73027"/>
<rect x="926.05" y="1002.28" width="1.5" height="47.42" fill="#d73027"/>
<rect x="954.85" y="1011.17" width="1.5" height="38.53" fill="#d73027"/>
<rect x="1068.55" y="1043.77" width="1.5" height="5.93" fill="#d73027"/>
<rect x="1079.65" y="1046.74" width="1.5" height="2.96" fill="#d73027"/>
<rect x="1168.05" y="1048.71" width="1.5" height="0.99" fill="#2166ac"/>
<rect x="1188.05" y="1046.74" width="1.5" height="2.96" fill="#2166ac"/>
<rect x="1189.65" y="1047.72" width="1.5" height="1.98" fill="#2166ac"/>
<rect x="1198.95" y="1047.72" width="1.5" height="1.98" fill="#2166ac"/>
<rect x="1201.85" y="1046.74" width="1.5" height="2.96" fill="#2166ac"/>
<rect x="1212.55" y="1046.74" width="1.5" height="2.96" fill="#2166ac"/>
<rect x="1214.35" y="1046.74" width="1.5" height="2.96" fill="#2166ac"/>
<rect x="1219.05" y="1046.74" width="1.5" height="2.96" fill="#2166ac"/>
<rect x="1227.95" y="1044.76" width="1.5" height="4.94" fill="#2166ac"/>
<rect x="1229.65" y="1045.75" width="1.5" height="3.95" fill="#2166ac"/>
<rect x="1234.15" y="1044.76" width="1.5" height="4.94" fill="#2166ac"/>
<rect x="1245.05" y="1043.77" width="1.5" height="5.93" fill="#2166ac"/>
<rect x="1284.85" y="1047.72" width="1.5" height="1.98" fill="#2166ac"/>
<rect x="1324.25" y="1048.71" width="1.5" height="0.99" fill="#2166ac"/>
<rect x="1329.15" y="1048.71" width="1.5" height="0.99" fill="#2166ac"/>
<rect x="1330.95" y="1048.71" width="1.5" height="0.99" fill="#2166ac"/>
<rect x="1158.95" y="1048.71" width="1.5" height="0.99" fill="#1b7837"/>
<rect x="1146.65" y="1048.71" width="1.5" height="0.99" fill="#d73027"/>
<rect x="1157.35" y="1048.71" width="1.5" height="0.99" fill="#d73027"/>
<rect x="1179.15" y="1048.71" width="1.5" height="0.99" fill="#d73027"/>
<rect x="1194.35" y="1048.71" width="1.5" height="0.99" fill="#d73027"/>
<rect x="1304.65" y="1048.71" width="1.5" height="0.99" fill="#d73027"/>
<rect x="1317.15" y="1048.71" width="1.5" height="0.99" fill="#d73027"/>
<rect x="691.5" y="949.3" width="209.9" height="103.9" fill="none" stroke="#333333" stroke-width="2.7"/>
<rect x="911.1" y="949.3" width="210.3" height="103.9" fill="none" stroke="#333333" stroke-width="2.7"/>
<rect x="1131" y="949.3" width="209.8" height="103.9" fill="none" stroke="#333333" stroke-width="2.7"/>
<line x1="683.5" y1="950.9" x2="691.5" y2="950.9" stroke="#333333" stroke-width="3.3"/>
<line x1="683.5" y1="1049.7" x2="691.5" y2="1049.7" stroke="#333333" stroke-width="3.3"/>
<text transform="translate(663.54,972.4) scale(0.9200,1)" font-size="27.2" fill="#000">1</text>
<text transform="translate(666.07,1051) scale(1.1400,1)" font-size="26.2" fill="#000">0</text>
<rect x="705.65" y="1156.05" width="1.5" height="2.95" fill="#2166ac"/>
<rect x="716.75" y="1148.18" width="1.5" height="10.82" fill="#2166ac"/>
<rect x="725.25" y="1152.11" width="1.5" height="6.89" fill="#2166ac"/>
<rect x="727.75" y="1154.08" width="1.5" height="4.92" fill="#2166ac"/>
<rect x="737.75" y="1155.06" width="1.5" height="3.94" fill="#2166ac"/>
<rect x="745.55" y="1154.08" width="1.5" height="4.92" fill="#2166ac"/>
<rect x="768.05" y="1147.19" width="1.5" height="11.81" fill="#2166ac"/>
<rect x="774.25" y="1147.19" width="1.5" height="11.81" fill="#2166ac"/>
<rect x="775.85" y="1143.26" width="1.5" height="15.74" fill="#2166ac"/>
<rect x="798.95" y="1138.34" width="1.5" height="20.66" fill="#2166ac"/>
<rect x="801.55" y="1135.38" width="1.5" height="23.62" fill="#2166ac"/>
<rect x="807.65" y="1137.35" width="1.5" height="21.65" fill="#2166ac"/>
<rect x="809.05" y="1126.53" width="1.5" height="32.47" fill="#2166ac"/>
<rect x="810.25" y="1149.16" width="1.5" height="9.84" fill="#2166ac"/>
<rect x="817.35" y="1138.34" width="1.5" height="20.66" fill="#2166ac"/>
<rect x="813.65" y="1079.3" width="1.5" height="79.7" fill="#d73027"/>
<rect x="836.75" y="1082.25" width="1.5" height="76.75" fill="#d73027"/>
<rect x="840.55" y="1076.34" width="1.5" height="82.66" fill="#d73027"/>
<rect x="817" y="1062" width="20.8" height="97.3" fill="#ee6a55" fill-opacity="0.21"/>
<rect x="872" y="1062" width="21" height="97.3" fill="#ee6a55" fill-opacity="0.21"/>
<rect x="934.15" y="1151.13" width="1.5" height="7.87" fill="#2166ac"/>
<rect x="936.15" y="1158.02" width="1.5" height="0.98" fill="#2166ac"/>
<rect x="945.45" y="1156.05" width="1.5" height="2.95" fill="#2166ac"/>
<rect x="963.15" y="1154.08" width="1.5" height="4.92" fill="#2166ac"/>
<rect x="964.45" y="1157.03" width="1.5" height="1.97" fill="#2166ac"/>
<rect x="972.75" y="1155.06" width="1.5" height="3.94" fill="#2166ac"/>
<rect x="975.65" y="1154.08" width="1.5" height="4.92" fill="#2166ac"/>
<rect x="984.95" y="1154.08" width="1.5" height="4.92" fill="#2166ac"/>
<rect x="986.55" y="1153.1" width="1.5" height="5.9" fill="#2166ac"/>
<rect x="990.45" y="1153.1" width="1.5" height="5.9" fill="#2166ac"/>
<rect x="998.75" y="1147.19" width="1.5" height="11.81" fill="#2166ac"/>
<rect x="1000.45" y="1149.16" width="1.5" height="9.84" fill="#2166ac"/>
<rect x="1004.35" y="1148.18" width="1.5" height="10.82" fill="#2166ac"/>
<rect x="1014.25" y="1145.22" width="1.5" height="13.78" fill="#2166ac"/>
<rect x="1049.45" y="1156.05" width="1.5" height="2.95" fill="#2166ac"/>
<rect x="1086.35" y="1155.06" width="1.5" height="3.94" fill="#2166ac"/>
<rect x="1089.55" y="1156.05" width="1.5" height="2.95" fill="#2166ac"/>
<rect x="1091.55" y="1158.02" width="1.5" height="0.98" fill="#2166ac"/>
<rect x="1100.25" y="1157.03" width="1.5" height="1.97" fill="#1b7837"/>
<rect x="1111.25" y="1158.02" width="1.5" height="0.98" fill="#1b7837"/>
<rect x="922.05" y="1135.38" width="1.5" height="23.62" fill="#d73027"/>
<rect x="926.05" y="1123.58" width="1.5" height="35.42" fill="#d73027"/>
<rect x="954.85" y="1131.45" width="1.5" height="27.55" fill="#d73027"/>
<rect x="1068.55" y="1155.06" width="1.5" height="3.94" fill="#d73027"/>
<rect x="1079.65" y="1157.03" width="1.5" height="1.97" fill="#d73027"/>
<rect x="1168.05" y="1158.02" width="1.5" height="0.98" fill="#2166ac"/>
<rect x="1188.05" y="1157.52" width="1.5" height="1.48" fill="#2166ac"/>
<rect x="1189.65" y="1158.02" width="1.5" height="0.98" fill="#2166ac"/>
<rect x="1198.95" y="1158.02" width="1.5" height="0.98" fill="#2166ac"/>
<rect x="1201.85" y="1157.52" width="1.5" height="1.48" fill="#2166ac"/>
<rect x="1212.55" y="1157.52" width="1.5" height="1.48" fill="#2166ac"/>
<rect x="1214.35" y="1158.02" width="1.5" height="0.98" fill="#2166ac"/>
<rect x="1219.05" y="1157.52" width="1.5" height="1.48" fill="#2166ac"/>
<rect x="1227.95" y="1157.03" width="1.5" height="1.97" fill="#2166ac"/>
<rect x="1229.65" y="1157.52" width="1.5" height="1.48" fill="#2166ac"/>
<rect x="1234.15" y="1157.03" width="1.5" height="1.97" fill="#2166ac"/>
<rect x="1245.05" y="1157.03" width="1.5" height="1.97" fill="#2166ac"/>
<rect x="1284.85" y="1158.02" width="1.5" height="0.98" fill="#2166ac"/>
<rect x="1324.25" y="1158.02" width="1.5" height="0.98" fill="#2166ac"/>
<rect x="1329.15" y="1158.02" width="1.5" height="0.98" fill="#2166ac"/>
<rect x="1330.95" y="1158.02" width="1.5" height="0.98" fill="#2166ac"/>
<rect x="1158.95" y="1158.02" width="1.5" height="0.98" fill="#1b7837"/>
<rect x="1146.65" y="1158.02" width="1.5" height="0.98" fill="#d73027"/>
<rect x="1157.35" y="1158.02" width="1.5" height="0.98" fill="#d73027"/>
<rect x="1179.15" y="1158.02" width="1.5" height="0.98" fill="#d73027"/>
<rect x="1194.35" y="1158.02" width="1.5" height="0.98" fill="#d73027"/>
<rect x="1304.65" y="1158.02" width="1.5" height="0.98" fill="#d73027"/>
<rect x="1317.15" y="1158.02" width="1.5" height="0.98" fill="#d73027"/>
<rect x="691.5" y="1059" width="209.9" height="103.5" fill="none" stroke="#333333" stroke-width="2.7"/>
<rect x="911.1" y="1059" width="210.3" height="103.5" fill="none" stroke="#333333" stroke-width="2.7"/>
<rect x="1131" y="1059" width="209.8" height="103.5" fill="none" stroke="#333333" stroke-width="2.7"/>
<line x1="683.5" y1="1060.6" x2="691.5" y2="1060.6" stroke="#333333" stroke-width="3.3"/>
<line x1="683.5" y1="1159" x2="691.5" y2="1159" stroke="#333333" stroke-width="3.3"/>
<text transform="translate(663.54,1080.6) scale(0.9200,1)" font-size="27.2" fill="#000">1</text>
<text transform="translate(666.07,1159.1) scale(1.1400,1)" font-size="26.2" fill="#000">0</text>
<rect x="696.75" y="1251.59" width="1.5" height="24.41" fill="#2f4f9e"/>
<rect x="703.15" y="1270.91" width="1.5" height="5.09" fill="#2f4f9e"/>
<rect x="714.45" y="1231.25" width="1.5" height="44.75" fill="#2f4f9e"/>
<rect x="716.25" y="1273.97" width="1.5" height="2.03" fill="#2f4f9e"/>
<rect x="722.75" y="1254.64" width="1.5" height="21.36" fill="#2f4f9e"/>
<rect x="724.75" y="1270.91" width="1.5" height="5.09" fill="#2f4f9e"/>
<rect x="735.35" y="1268.88" width="1.5" height="7.12" fill="#2f4f9e"/>
<rect x="742.75" y="1268.88" width="1.5" height="7.12" fill="#2f4f9e"/>
<rect x="744.25" y="1272.95" width="1.5" height="3.05" fill="#2f4f9e"/>
<rect x="766.25" y="1258.71" width="1.5" height="17.29" fill="#2f4f9e"/>
<rect x="772.25" y="1269.9" width="1.5" height="6.1" fill="#2f4f9e"/>
<rect x="773.75" y="1266.85" width="1.5" height="9.15" fill="#2f4f9e"/>
<rect x="796.75" y="1264.81" width="1.5" height="11.19" fill="#2f4f9e"/>
<rect x="799.55" y="1257.69" width="1.5" height="18.31" fill="#2f4f9e"/>
<rect x="805.95" y="1257.69" width="1.5" height="18.31" fill="#2f4f9e"/>
<rect x="807.15" y="1239.39" width="1.5" height="36.61" fill="#2f4f9e"/>
<rect x="808.25" y="1270.91" width="1.5" height="5.09" fill="#2f4f9e"/>
<rect x="815.85" y="1249.56" width="1.5" height="26.44" fill="#2f4f9e"/>
<rect x="811.95" y="1187.52" width="1.5" height="88.48" fill="#b83a35"/>
<rect x="835.45" y="1190.57" width="1.5" height="85.43" fill="#b83a35"/>
<rect x="839.35" y="1192.61" width="1.5" height="83.39" fill="#b83a35"/>
<rect x="815.3" y="1174" width="21.1" height="102.3" fill="#d6705e" fill-opacity="0.24"/>
<rect x="871.3" y="1174" width="21.1" height="102.3" fill="#d6705e" fill-opacity="0.24"/>
<rect x="920.25" y="1272.95" width="1.5" height="3.05" fill="#2f4f9e"/>
<rect x="935.25" y="1244.47" width="1.5" height="31.53" fill="#2f4f9e"/>
<rect x="936.95" y="1270.91" width="1.5" height="5.09" fill="#2f4f9e"/>
<rect x="946.05" y="1267.86" width="1.5" height="8.14" fill="#2f4f9e"/>
<rect x="963.55" y="1258.71" width="1.5" height="17.29" fill="#2f4f9e"/>
<rect x="964.75" y="1267.86" width="1.5" height="8.14" fill="#2f4f9e"/>
<rect x="972.75" y="1266.85" width="1.5" height="9.15" fill="#2f4f9e"/>
<rect x="976.25" y="1264.81" width="1.5" height="11.19" fill="#2f4f9e"/>
<rect x="985.35" y="1259.73" width="1.5" height="16.27" fill="#2f4f9e"/>
<rect x="986.95" y="1256.68" width="1.5" height="19.32" fill="#2f4f9e"/>
<rect x="990.65" y="1240.4" width="1.5" height="35.6" fill="#2f4f9e"/>
<rect x="999.25" y="1229.22" width="1.5" height="46.78" fill="#2f4f9e"/>
<rect x="1000.75" y="1233.29" width="1.5" height="42.71" fill="#2f4f9e"/>
<rect x="1004.95" y="1223.12" width="1.5" height="52.88" fill="#2f4f9e"/>
<rect x="1014.15" y="1198.71" width="1.5" height="77.29" fill="#2f4f9e"/>
<rect x="1049.35" y="1240.4" width="1.5" height="35.6" fill="#2f4f9e"/>
<rect x="1086.15" y="1239.39" width="1.5" height="36.61" fill="#2f4f9e"/>
<rect x="1088.05" y="1251.59" width="1.5" height="24.41" fill="#2f4f9e"/>
<rect x="1089.75" y="1252.61" width="1.5" height="23.39" fill="#2f4f9e"/>
<rect x="1091.25" y="1265.83" width="1.5" height="10.17" fill="#2f4f9e"/>
<rect x="1100.35" y="1231.25" width="1.5" height="44.75" fill="#2a6e3a"/>
<rect x="1111.15" y="1262.78" width="1.5" height="13.22" fill="#2a6e3a"/>
<rect x="917.55" y="1196.67" width="1.5" height="79.33" fill="#b83a35"/>
<rect x="922.85" y="1220.07" width="1.5" height="55.94" fill="#b83a35"/>
<rect x="926.95" y="1195.66" width="1.5" height="80.34" fill="#b83a35"/>
<rect x="955.75" y="1206.84" width="1.5" height="69.16" fill="#b83a35"/>
<rect x="1068.45" y="1233.29" width="1.5" height="42.71" fill="#b83a35"/>
<rect x="1079.25" y="1255.66" width="1.5" height="20.34" fill="#b83a35"/>
<rect x="1143.05" y="1273.97" width="1.5" height="2.03" fill="#2f4f9e"/>
<rect x="1167.85" y="1271.93" width="1.5" height="4.07" fill="#2f4f9e"/>
<rect x="1188.75" y="1262.78" width="1.5" height="13.22" fill="#2f4f9e"/>
<rect x="1198.75" y="1269.9" width="1.5" height="6.1" fill="#2f4f9e"/>
<rect x="1201.75" y="1267.86" width="1.5" height="8.14" fill="#2f4f9e"/>
<rect x="1212.25" y="1267.86" width="1.5" height="8.14" fill="#2f4f9e"/>
<rect x="1214.25" y="1266.85" width="1.5" height="9.15" fill="#2f4f9e"/>
<rect x="1219.85" y="1262.78" width="1.5" height="13.22" fill="#2f4f9e"/>
<rect x="1228.05" y="1250.58" width="1.5" height="25.43" fill="#2f4f9e"/>
<rect x="1229.75" y="1253.63" width="1.5" height="22.37" fill="#2f4f9e"/>
<rect x="1235.25" y="1248.54" width="1.5" height="27.46" fill="#2f4f9e"/>
<rect x="1246.05" y="1223.12" width="1.5" height="52.88" fill="#2f4f9e"/>
<rect x="1286.05" y="1243.46" width="1.5" height="32.54" fill="#2f4f9e"/>
<rect x="1325.65" y="1254.64" width="1.5" height="21.36" fill="#2f4f9e"/>
<rect x="1329.75" y="1254.64" width="1.5" height="21.36" fill="#2f4f9e"/>
<rect x="1331.25" y="1265.83" width="1.5" height="10.17" fill="#2f4f9e"/>
<rect x="1158.95" y="1272.95" width="1.5" height="3.05" fill="#2a6e3a"/>
<rect x="1146.85" y="1261.76" width="1.5" height="14.24" fill="#b83a35"/>
<rect x="1157.25" y="1263.8" width="1.5" height="12.2" fill="#b83a35"/>
<rect x="1179.55" y="1245.49" width="1.5" height="30.51" fill="#b83a35"/>
<rect x="1194.65" y="1245.49" width="1.5" height="30.51" fill="#b83a35"/>
<rect x="1306.05" y="1256.68" width="1.5" height="19.32" fill="#b83a35"/>
<rect x="1318.15" y="1267.86" width="1.5" height="8.14" fill="#b83a35"/>
<rect x="688.5" y="1171" width="212.7" height="109" fill="none" stroke="#333333" stroke-width="2.5"/>
<rect x="909.2" y="1171" width="212.6" height="109" fill="none" stroke="#333333" stroke-width="2.5"/>
<rect x="1130.6" y="1171" width="212.2" height="109" fill="none" stroke="#333333" stroke-width="2.5"/>
<line x1="683.5" y1="1174.3" x2="688.5" y2="1174.3" stroke="#333333" stroke-width="3.3"/>
<line x1="683.5" y1="1276" x2="688.5" y2="1276" stroke="#333333" stroke-width="3.3"/>
<text transform="translate(664.44,1190.6) scale(0.9200,1)" font-size="27.2" fill="#000">1</text>
<text transform="translate(663.37,1278.2) scale(1.1400,1)" font-size="26.2" fill="#000">0</text>
<rect x="697.85" y="1391.3" width="1.5" height="6.1" fill="#2f4f9e"/>
<rect x="704.35" y="1394.35" width="1.5" height="3.05" fill="#2f4f9e"/>
<rect x="715.15" y="1382.14" width="1.5" height="15.26" fill="#2f4f9e"/>
<rect x="717.25" y="1395.37" width="1.5" height="2.03" fill="#2f4f9e"/>
<rect x="723.85" y="1387.23" width="1.5" height="10.17" fill="#2f4f9e"/>
<rect x="726.25" y="1391.3" width="1.5" height="6.1" fill="#2f4f9e"/>
<rect x="736.35" y="1392.32" width="1.5" height="5.09" fill="#2f4f9e"/>
<rect x="743.85" y="1380.11" width="1.5" height="17.29" fill="#2f4f9e"/>
<rect x="744.75" y="1389.26" width="1.5" height="8.14" fill="#2f4f9e"/>
<rect x="766.85" y="1380.11" width="1.5" height="17.29" fill="#2f4f9e"/>
<rect x="773.75" y="1380.11" width="1.5" height="17.29" fill="#2f4f9e"/>
<rect x="774.45" y="1375.03" width="1.5" height="22.37" fill="#2f4f9e"/>
<rect x="797.95" y="1380.11" width="1.5" height="17.29" fill="#2f4f9e"/>
<rect x="800.25" y="1367.91" width="1.5" height="29.49" fill="#2f4f9e"/>
<rect x="807.25" y="1375.03" width="1.5" height="22.37" fill="#2f4f9e"/>
<rect x="808.25" y="1359.77" width="1.5" height="37.63" fill="#2f4f9e"/>
<rect x="809.25" y="1389.26" width="1.5" height="8.14" fill="#2f4f9e"/>
<rect x="816.85" y="1361.81" width="1.5" height="35.6" fill="#2f4f9e"/>
<rect x="812.85" y="1318.07" width="1.5" height="79.33" fill="#b83a35"/>
<rect x="836.35" y="1318.07" width="1.5" height="79.33" fill="#b83a35"/>
<rect x="840.05" y="1328.24" width="1.5" height="69.16" fill="#b83a35"/>
<rect x="815.3" y="1295.4" width="21.1" height="102.3" fill="#d6705e" fill-opacity="0.24"/>
<rect x="871.3" y="1295.4" width="21.1" height="102.3" fill="#d6705e" fill-opacity="0.24"/>
<rect x="921.25" y="1395.37" width="1.5" height="2.03" fill="#2f4f9e"/>
<rect x="935.25" y="1393.33" width="1.5" height="4.07" fill="#2f4f9e"/>
<rect x="936.75" y="1395.37" width="1.5" height="2.03" fill="#2f4f9e"/>
<rect x="946.05" y="1396.38" width="1.5" height="1.02" fill="#2f4f9e"/>
<rect x="963.25" y="1396.38" width="1.5" height="1.02" fill="#2f4f9e"/>
<rect x="973.25" y="1396.38" width="1.5" height="1.02" fill="#2f4f9e"/>
<rect x="986.25" y="1396.38" width="1.5" height="1.02" fill="#2f4f9e"/>
<rect x="999.25" y="1396.38" width="1.5" height="1.02" fill="#2f4f9e"/>
<rect x="1004.25" y="1395.87" width="1.5" height="1.53" fill="#2f4f9e"/>
<rect x="1015.25" y="1393.33" width="1.5" height="4.07" fill="#2f4f9e"/>
<rect x="1049.25" y="1396.38" width="1.5" height="1.02" fill="#2f4f9e"/>
<rect x="1087.25" y="1396.38" width="1.5" height="1.02" fill="#2f4f9e"/>
<rect x="923.75" y="1376.04" width="1.5" height="21.36" fill="#b83a35"/>
<rect x="928.15" y="1379.09" width="1.5" height="18.31" fill="#b83a35"/>
<rect x="956.15" y="1379.09" width="1.5" height="18.31" fill="#b83a35"/>
<rect x="1068.45" y="1395.37" width="1.5" height="2.03" fill="#b83a35"/>
<rect x="1080.35" y="1387.23" width="1.5" height="10.17" fill="#b83a35"/>
<rect x="1168.05" y="1396.38" width="1.5" height="1.02" fill="#2f4f9e"/>
<rect x="1188.05" y="1395.87" width="1.5" height="1.53" fill="#2f4f9e"/>
<rect x="1189.65" y="1396.38" width="1.5" height="1.02" fill="#2f4f9e"/>
<rect x="1198.95" y="1396.38" width="1.5" height="1.02" fill="#2f4f9e"/>
<rect x="1201.85" y="1395.87" width="1.5" height="1.53" fill="#2f4f9e"/>
<rect x="1212.55" y="1395.87" width="1.5" height="1.53" fill="#2f4f9e"/>
<rect x="1214.35" y="1396.38" width="1.5" height="1.02" fill="#2f4f9e"/>
<rect x="1219.05" y="1395.87" width="1.5" height="1.53" fill="#2f4f9e"/>
<rect x="1227.95" y="1395.37" width="1.5" height="2.03" fill="#2f4f9e"/>
<rect x="1229.65" y="1395.87" width="1.5" height="1.53" fill="#2f4f9e"/>
<rect x="1234.15" y="1395.37" width="1.5" height="2.03" fill="#2f4f9e"/>
<rect x="1245.05" y="1395.37" width="1.5" height="2.03" fill="#2f4f9e"/>
<rect x="1284.85" y="1396.38" width="1.5" height="1.02" fill="#2f4f9e"/>
<rect x="1324.25" y="1396.38" width="1.5" height="1.02" fill="#2f4f9e"/>
<rect x="1329.15" y="1396.38" width="1.5" height="1.02" fill="#2f4f9e"/>
<rect x="1330.95" y="1396.38" width="1.5" height="1.02" fill="#2f4f9e"/>
<rect x="1158.95" y="1396.38" width="1.5" height="1.02" fill="#2a6e3a"/>
<rect x="1146.65" y="1396.38" width="1.5" height="1.02" fill="#b83a35"/>
<rect x="1157.35" y="1396.38" width="1.5" height="1.02" fill="#b83a35"/>
<rect x="1179.15" y="1396.38" width="1.5" height="1.02" fill="#b83a35"/>
<rect x="1194.35" y="1396.38" width="1.5" height="1.02" fill="#b83a35"/>
<rect x="1304.65" y="1396.38" width="1.5" height="1.02" fill="#b83a35"/>
<rect x="1317.15" y="1396.38" width="1.5" height="1.02" fill="#b83a35"/>
<rect x="688.5" y="1292.4" width="212.7" height="109" fill="none" stroke="#333333" stroke-width="2.5"/>
<rect x="909.2" y="1292.4" width="212.6" height="109" fill="none" stroke="#333333" stroke-width="2.5"/>
<rect x="1130.6" y="1292.4" width="212.2" height="109" fill="none" stroke="#333333" stroke-width="2.5"/>
<line x1="683.5" y1="1295.7" x2="688.5" y2="1295.7" stroke="#333333" stroke-width="3.3"/>
<line x1="683.5" y1="1397.4" x2="688.5" y2="1397.4" stroke="#333333" stroke-width="3.3"/>
<text transform="translate(664.44,1311.6) scale(0.9200,1)" font-size="27.2" fill="#000">1</text>
<text transform="translate(669.37,1399.2) scale(1.1400,1)" font-size="26.2" fill="#000">0</text>
<text transform="translate(653.42,832.72) rotate(-90) scale(1.1694,1)" font-size="28.02" fill="#000">Methylation level</text>
<text transform="translate(1365.7,77.89) rotate(90) scale(0.8769,1)" font-size="29.93" fill="#000">Col-0</text>
<text transform="translate(1364.67,207.48) rotate(90) scale(0.9899,1)" font-size="26.67" font-style="italic" fill="#000">fwa</text>
<text transform="translate(1347.44,343.57) scale(1.0846,1)" font-size="30.16" fill="#000">(+)</text>
<text transform="translate(1347.43,454.67) scale(1.0913,1)" font-size="30.16" fill="#000">(-)</text>
<line x1="1389.3" y1="300.1" x2="1389.3" y2="490.5" stroke="#333333" stroke-width="2"/>
<text transform="translate(1435.8,318.2) rotate(90) scale(0.8717,1)" font-size="30.14" fill="#000">MOM1-ZF T2</text>
<text transform="translate(1404.75,339.41) rotate(90) scale(0.8652,1)" font-size="30.23" fill="#000">transgene</text>
<text transform="translate(1347.44,563.07) scale(1.0846,1)" font-size="30.16" fill="#000">(+)</text>
<text transform="translate(1347.43,673.77) scale(1.0913,1)" font-size="30.16" fill="#000">(-)</text>
<line x1="1389.3" y1="526.9" x2="1389.3" y2="716.6" stroke="#333333" stroke-width="2"/>
<text transform="translate(1435.8,545.3) rotate(90) scale(0.8700,1)" font-size="30.14" fill="#000">MOM2-ZF T2</text>
<text transform="translate(1404.75,567.61) rotate(90) scale(0.8584,1)" font-size="30.23" fill="#000">transgene</text>
<text transform="translate(1347.44,787.67) scale(1.0846,1)" font-size="30.16" fill="#000">(+)</text>
<text transform="translate(1347.43,899.97) scale(1.0913,1)" font-size="30.16" fill="#000">(-)</text>
<line x1="1389.3" y1="743.5" x2="1389.3" y2="934.8" stroke="#333333" stroke-width="2"/>
<text transform="translate(1435.5,768.31) rotate(90) scale(0.8537,1)" font-size="30.57" fill="#000">PIAL1-ZF T2</text>
<text transform="translate(1404.75,785.81) rotate(90) scale(0.8592,1)" font-size="30.23" fill="#000">transgene</text>
<text transform="translate(1347.44,1015.57) scale(1.0846,1)" font-size="30.16" fill="#000">(+)</text>
<text transform="translate(1347.43,1126.17) scale(1.0913,1)" font-size="30.16" fill="#000">(-)</text>
<line x1="1389.3" y1="970.6" x2="1389.3" y2="1158.7" stroke="#333333" stroke-width="2"/>
<text transform="translate(1435.5,996.91) rotate(90) scale(0.8537,1)" font-size="30.57" fill="#000">PIAL2-ZF T2</text>
<text transform="translate(1404.75,1014.41) rotate(90) scale(0.8592,1)" font-size="30.23" fill="#000">transgene</text>
<text transform="translate(1348.84,1243.27) scale(1.0846,1)" font-size="30.16" fill="#000">(+)</text>
<text transform="translate(1348.83,1353.67) scale(1.0913,1)" font-size="30.16" fill="#000">(-)</text>
<line x1="1391.2" y1="1196.7" x2="1391.2" y2="1386.4" stroke="#333333" stroke-width="2"/>
<text transform="translate(1435.5,1221.51) rotate(90) scale(0.8527,1)" font-size="30.57" fill="#000">PHD1-ZF T2</text>
<text transform="translate(1404.75,1237.42) rotate(90) scale(0.8463,1)" font-size="30.23" fill="#000">transgene</text>
<text x="874.85" y="1446.5" font-size="23.3" fill="#000">type</text>
<rect x="948" y="1423.2" width="21.8" height="29.6" fill="#d73027"/>
<rect x="1028.7" y="1423.2" width="21.7" height="29.6" fill="#006837"/>
<rect x="1125.6" y="1424.1" width="21.3" height="29.7" fill="#2166ac"/>
<text x="976.12" y="1446.2" font-size="25.5" fill="#000">CG</text>
<text x="1056.92" y="1446.2" font-size="25.5" fill="#000">CHG</text>
<text x="1153.22" y="1446.2" font-size="25.5" fill="#000">CHH</text>
<text transform="translate(1448.73,25.11) scale(1.1037,1)" font-size="28.71" font-weight="bold" fill="#000">d</text>
<text transform="translate(1809.13,45.34) scale(1.2285,1)" font-size="25.63" fill="#000">CG</text>
<polyline points="1692.7,185.9 1702.3,188 1706.4,180.4 1711.2,180.4 1716.7,186.6 1722.2,187.3 1726.3,194.2 1731.1,202.4 1735.9,207.2 1740.7,201 1744.9,194.9 1749.7,195.5 1755.2,180.4 1759.3,166.7 1764.8,166 1768.9,177 1773.7,176.3 1778.5,172.9 1783.3,177.7 1788.1,175.6 1792.9,175.6 1797,164 1802.5,159.1 1807.3,157.1 1812.8,157.8 1817.6,156.4 1823.1,157.1 1827.9,162.6 1830.3,169.4 1835.1,181.8 1840.6,188.7 1845.4,199.6 1851.6,206.5 1857.8,214.8 1865.3,209.3 1874.9,201.7 1882.5,207.2 1891.4,197.6 1898.3,202.4 1905.1,198.3 1911.3,190 1916.1,189.3 1920.9,191.4 1925.7,196.9 1930.5,198.3 1935.4,206.5 1940.8,210.6 1944.3,219.6 1949.8,225.1 1955.3,213.4 1962.8,203.8 1967.6,203.8 1973.1,190" fill="none" stroke="#e11c24" stroke-width="3.8" stroke-linejoin="round" stroke-linecap="butt"/>
<polyline points="1692.7,184.6 1697.5,187.3 1702.6,190.7 1707.1,185.2 1711.9,191.4 1716.7,201.7 1721.5,199 1726.3,209.3 1731.8,214.8 1740,218.9 1744.9,218.9 1749.7,228.5 1754.5,221.6 1759.3,214.1 1764.8,216.1 1768.9,214.8 1774.4,205.1 1778.5,203.1 1783.3,206.5 1788.1,203.8 1792.9,206.5 1798.4,202.4 1803.2,210.6 1807.3,210.6 1812.1,202.4 1816.3,196.2 1821.1,190 1825.5,192.8 1831,190.7 1835.8,195.5 1840.6,201 1844.7,213.4 1849.5,221.6 1854.3,225.7 1859.1,236.7 1863.9,232.6 1870.1,231.2 1876.3,228.5 1880.4,225.7 1886.6,213.4 1892.1,214.8 1896.9,209.3 1901.7,204.5 1909.3,203.1 1914.8,196.9 1920.9,181.8 1925.7,185.9 1931.2,192.1 1935.4,192.8 1940.8,198.3 1944.3,210.6 1949.1,223 1955.3,220.2 1962.8,214.8 1969,218.2 1973.1,205.8" fill="none" stroke="#964b9b" stroke-width="3.8" stroke-linejoin="round" stroke-linecap="butt"/>
<polyline points="1692.7,164 1697.5,160.5 1702.6,168.1 1707.1,159.1 1712.6,162.6 1716.7,174.9 1721.5,172.9 1726.3,184.6 1731.8,196.9 1737.3,203.8 1740.7,207.9 1744.9,203.1 1749.7,213.4 1753.8,203.8 1758.6,190 1764.1,185.9 1768.9,176.3 1774.4,166.7 1778.5,153.6 1782.6,169.4 1788.1,171.5 1792.9,181.1 1798.4,182.5 1803.2,188.7 1807.3,188.7 1811.5,179.1 1816.3,182.5 1821.1,174.9 1825.5,180.4 1831,183.2 1835.8,190 1840.6,196.9 1846.1,199.6 1853,203.1 1859.8,210.6 1866.7,205.1 1873.6,196.2 1877.7,202.4 1883.2,203.8 1887.3,187.3 1892.1,178.4 1898.3,177.7 1902.4,179.1 1906.5,174.2 1911.3,162.6 1917.5,165.3 1925.7,170.1 1934,176.3 1939.5,179.1 1944.3,191.4 1949.1,198.3 1953.2,187.3 1958.7,178.4 1963.5,172.9 1968.3,178.4 1973.1,160.5" fill="none" stroke="#f47c20" stroke-width="3.8" stroke-linejoin="round" stroke-linecap="butt"/>
<polyline points="1692.7,225.8 1697.5,229.2 1702.6,240.2 1707.1,234.7 1711.9,229.2 1717.4,247.7 1725.6,269.7 1733.9,264.2 1740.7,262.1 1744.9,249.8 1751,248.4 1755.2,237.4 1759.3,225.8 1764.8,229.9 1769.6,236.7 1774.4,236 1779.9,230.6 1785.4,227.8 1789.5,221.6 1793.6,210.6 1797.7,198.3 1801.8,191.4 1806,172.2 1811.5,157.1 1817,148.8 1821.1,144.7 1825.5,145.4 1831.7,152.3 1836.5,165.3 1841.3,176.3 1847.5,194.2 1853,205.1 1857.8,218.9 1862.6,229.9 1868.1,235.4 1873.6,241.5 1877.7,240.8 1883.2,247.7 1888.7,245 1894.2,247.7 1901.7,258.7 1909.3,258.7 1916.1,256.6 1920.9,249.8 1925.7,251.8 1930.5,247 1935.4,255.3 1940.2,258.7 1945,275.2 1949.1,290.3 1953.9,276.6 1962.8,267.6 1969,262.8 1973.1,236.7" fill="none" stroke="#377db9" stroke-width="3.8" stroke-linejoin="round" stroke-linecap="butt"/>
<polyline points="1692.7,205.1 1697.5,207.2 1702.6,207.9 1707.1,200.3 1711.9,204.5 1716.7,214.8 1721.5,214.8 1725.6,223 1730.4,234 1735.9,237.4 1740.7,238.1 1744.9,237.4 1749.7,240.9 1754.5,230.6 1759.3,225.8 1764.8,223 1768.9,225.1 1774.4,218.9 1779.9,218.9 1784,224.4 1788.1,207.9 1792.2,213.4 1797.7,199.7 1801.8,194.9 1807.3,183.2 1811.5,166.7 1816.3,165.3 1821.1,153 1825.5,157.1 1831,158.5 1835.1,170.8 1840.6,177.7 1846.1,192.8 1850.2,203.8 1855,213.4 1859.1,229.9 1863.9,226.4 1868.8,234 1876.3,231.2 1883.2,229.9 1887.3,217.5 1892.1,221.6 1896.9,216.8 1902.4,215.4 1907.9,214.1 1914.1,207.9 1920.9,205.1 1925.7,210 1930.5,215.4 1935.4,211.3 1939.5,217.5 1943.6,235.4 1949.1,236.7 1955.3,233.3 1961.4,235.4 1969,242.9 1973.1,229.9" fill="none" stroke="#999999" stroke-width="3.8" stroke-linejoin="round" stroke-linecap="butt"/>
<line x1="1674.1" y1="219" x2="1986.4" y2="219" stroke="#000" stroke-width="4.3" stroke-dasharray="18.6 18.4"/>
<line x1="1787.8" y1="52.5" x2="1787.8" y2="384.3" stroke="#000" stroke-width="4.3" stroke-dasharray="18.6 18.4" stroke-dashoffset="18.4"/>
<line x1="1878" y1="52.5" x2="1878" y2="384.3" stroke="#000" stroke-width="4.3" stroke-dasharray="18.6 18.4" stroke-dashoffset="18.4"/>
<rect x="1675.1" y="52.5" width="311.3" height="331.8" fill="none" stroke="#333333" stroke-width="1.9"/>
<line x1="1669.9" y1="124.1" x2="1675.1" y2="124.1" stroke="#333333" stroke-width="2.6"/>
<text x="1593.5" y="133.5" font-size="26.3" fill="#000">0.005</text>
<line x1="1669.9" y1="219" x2="1675.1" y2="219" stroke="#333333" stroke-width="2.6"/>
<text x="1593.37" y="228.4" font-size="26.3" fill="#000">0.000</text>
<line x1="1669.9" y1="313.9" x2="1675.1" y2="313.9" stroke="#333333" stroke-width="2.6"/>
<text x="1578.12" y="323.3" font-size="26.3" fill="#000">−0.005</text>
<line x1="1687.6" y1="384.3" x2="1687.6" y2="389.3" stroke="#333333" stroke-width="2.8"/>
<line x1="1972.3" y1="384.3" x2="1972.3" y2="389.3" stroke="#333333" stroke-width="2.8"/>
<text x="1654.88" y="414.4" font-size="26.4" fill="#000">−1</text>
<text transform="translate(1751.69,414) scale(1.0205,1)" font-size="26.4" fill="#000">ZF off-target</text>
<text x="1952.25" y="414" font-size="26.4" fill="#000">1kb</text>
<text transform="translate(1536.9,203.7) rotate(-90) scale(1.11,1)" font-size="25.5" text-anchor="middle">Methylation level vairation</text>
<text transform="translate(1568.3,203.7) rotate(-90) scale(1.11,1)" font-size="25.5" text-anchor="middle">(sample minus <tspan font-style="italic">fwa</tspan> control)</text>
<text transform="translate(1795.05,466.13) scale(1.1446,1)" font-size="27.04" fill="#000">CHG</text>
<polyline points="1694.85,650.01 1697.83,649.08 1700.8,648.33 1704.2,651.79 1707.6,650.6 1711,649.13 1714.4,648.63 1717.8,648.13 1721.2,647.7 1724.6,647.45 1728,646.05 1731.4,644.85 1734.24,644.21 1737.07,643.64 1739.9,643.12 1743.3,644.13 1746.71,644.98 1749.54,643.64 1752.37,642.5 1755.21,641.31 1758.61,640.69 1762.01,639.93 1764.56,639.55 1767.11,639.16 1770.51,636.17 1773.91,633.26 1776.46,628.99 1779.01,624.54 1782.41,617.85 1785.81,610.97 1789.21,605.08 1792.61,599.09 1795.44,595.62 1798.27,592.17 1801.11,588.76 1804.51,584.47 1807.91,580.13 1811.31,575.23 1814.71,570.22 1818.11,564.38 1821.51,558.39 1824.06,552.36 1826.61,546.45 1829.16,540.3 1831.71,534.44 1834.26,534.83 1836.81,535.14 1839.36,537.22 1841.91,539.43 1844.74,545.05 1847.58,550.76 1850.41,556.5 1853.81,565.82 1857.21,575.06 1859.76,583.63 1862.31,592.08 1865.71,598.85 1869.11,605.62 1872.51,611.62 1875.91,617.49 1878.46,621.05 1881.01,624.64 1884.41,625.39 1887.81,626.3 1890.36,626.41 1892.91,626.15 1895.46,629.45 1898.01,633.04 1901.41,634.84 1904.81,636.52 1907.36,636.35 1909.91,636.35 1912.47,638.63 1915.02,640.84 1917.57,643.41 1920.12,645.76 1922.67,644.18 1925.22,642.38 1927.77,642.44 1930.32,642.27 1933.72,647.58 1937.12,647.13 1940.52,646.74 1943.07,647.42 1945.62,648.33 1948.17,646.65 1950.72,644.96 1954.12,644.46 1957.52,644.13 1960.07,641.91 1962.62,639.73 1965.17,638.8 1967.72,638.09 1971.97,634.71" fill="none" stroke="#377db9" stroke-width="3.8" stroke-linejoin="round" stroke-linecap="butt"/>
<polyline points="1694.85,595.61 1697.83,594.32 1700.8,593.07 1704.2,594.91 1708.45,588.87 1711.43,590.97 1714.4,593.11 1717.24,592.4 1720.07,591.88 1722.9,591.38 1725.45,592.75 1728,593.82 1731.4,594.22 1734.8,594.56 1737.35,596.04 1739.9,597.38 1743.3,597.61 1746.71,598.26 1749.54,598.09 1752.37,597.75 1755.21,597.43 1757.76,598.1 1760.31,598.81 1762.86,599.94 1765.41,600.85 1768.81,596.84 1772.21,592.86 1775.61,591.1 1779.01,589.51 1782.41,588.29 1785.81,587.18 1789.21,586.3 1792.61,585.48 1796.01,585.87 1799.41,586.33 1802.81,584.58 1806.21,582.79 1808.76,580.45 1811.31,578 1813.86,573.32 1816.41,568.6 1819.81,565.89 1823.21,563.23 1826.61,555.54 1830.01,547.8 1832.84,549.41 1835.68,550.8 1838.51,552.36 1841.06,557.79 1843.61,563.47 1846.44,565.78 1849.28,567.77 1852.11,569.97 1854.66,576.13 1857.21,582.03 1859.76,584.31 1862.31,586.31 1864.86,586.98 1867.41,587.94 1870.81,587.2 1874.21,586.22 1877.61,586.52 1881.01,586.97 1883.56,585.92 1886.11,584.69 1888.66,583.22 1891.21,581.88 1894.61,584.36 1898.01,586.43 1901.41,588.78 1904.81,588.4 1908.21,588.2 1911.62,587.92 1914.45,588.11 1917.28,588.54 1920.12,588.69 1922.67,587.1 1925.22,585.27 1927.77,584.03 1930.32,582.71 1932.87,583.98 1935.42,585.49 1938.82,587.26 1942.22,588.81 1945.62,591.07 1949.02,593.02 1951.57,594.7 1954.12,596.55 1957.52,595.28 1960.92,593.82 1963.47,594.03 1966.02,593.87 1968.99,592.95 1971.97,592.21" fill="none" stroke="#964b9b" stroke-width="3.8" stroke-linejoin="round" stroke-linecap="butt"/>
<polyline points="1694.85,578.27 1699.1,576.93 1701.65,578.59 1704.2,580.33 1707.6,578.94 1711,577.82 1714.4,578.33 1717.8,578.73 1721.2,579.68 1724.6,580.85 1728,581.94 1730.55,581.03 1733.1,580.4 1736.08,582.65 1739.05,584.51 1742.03,586.78 1745.01,588.89 1748.41,588.53 1751.81,588.17 1755.21,587.98 1758.04,588.24 1760.87,588.59 1763.71,588.89 1767.11,584.47 1770.51,580.36 1773.06,578.38 1775.61,576.32 1779.01,576.23 1782.41,575.98 1785.81,577.12 1789.21,578.37 1791.76,580.34 1794.31,581.96 1796.86,586.18 1799.41,590.61 1801.96,592.02 1804.51,593.58 1807.06,592.44 1809.61,591.2 1813.01,588.19 1816.41,585.22 1819.81,581.93 1823.21,575.92 1826.61,570.01 1829.16,567.77 1831.71,565.75 1835.11,567.19 1838.51,568.49 1841.91,572.71 1845.31,577.06 1848.71,580.26 1852.11,583.71 1855.51,586.21 1858.91,588.82 1861.46,589.53 1864.01,590.54 1867.41,586.98 1870.81,583.53 1873.65,582.87 1876.48,582.17 1879.31,581.22 1882.71,579.46 1886.11,577.67 1888.66,575.51 1891.21,573.48 1894.61,572.11 1898.01,570.76 1901.41,567.87 1904.81,564.83 1908.21,564.55 1911.62,564.25 1915.02,565.57 1918.42,566.77 1921.82,568.38 1925.22,570.07 1928.62,573.32 1932.02,576.89 1934.57,578.96 1937.12,581.06 1940.52,582.24 1943.92,583.59 1946.47,582.83 1949.02,581.95 1951.57,585.08 1954.12,588.07 1957.52,586.65 1960.92,585.4 1963.47,584.7 1966.02,583.78 1968.99,582.93 1971.97,582.01" fill="none" stroke="#f47c20" stroke-width="3.8" stroke-linejoin="round" stroke-linecap="butt"/>
<polyline points="1694.85,610.06 1697.4,609.77 1699.95,609.54 1702.5,609.29 1705.05,607 1707.6,604.74 1710.15,605.23 1712.7,605.65 1715.25,604.56 1717.8,603.34 1721.2,603.33 1724.6,603.32 1728,604.62 1731.4,605.73 1733.95,607.87 1736.5,609.91 1739.05,610.13 1741.6,609.94 1744.16,611.81 1746.71,613.33 1749.54,613.18 1752.37,612.84 1755.21,612.55 1758.61,612.13 1762.01,611.35 1765.41,610.69 1768.81,608.4 1772.21,605.83 1775.61,605.25 1779.01,605.06 1782.41,603.04 1785.81,600.68 1789.21,597.69 1792.61,594.61 1796.01,589.94 1799.41,585.38 1802.81,578.47 1806.21,571.81 1809.61,564 1813.01,556.31 1816.41,544.62 1818.96,541.18 1821.51,537.76 1824.06,532.72 1826.61,527.6 1829.16,521.61 1831.71,515.52 1834.54,516.82 1837.38,518.13 1840.21,519.35 1842.76,524.38 1845.31,529.34 1848.29,533.53 1851.26,537.86 1855.51,551.49 1858.91,564.91 1861.46,571.67 1864.01,578.49 1866.56,582.8 1869.11,587.19 1872.51,589.7 1875.91,592.06 1879.31,594.8 1882.71,597.3 1885.26,596.04 1887.81,594.66 1890.36,594.26 1892.91,593.83 1895.75,595.66 1898.58,597.2 1901.41,598.97 1904.39,599.09 1907.36,599.43 1910.34,599.48 1913.32,599.7 1916.72,601.85 1920.12,604.09 1923.52,603.09 1926.92,602.31 1930.32,604.38 1933.72,606.51 1937.12,607.42 1940.52,608.48 1943.92,609.26 1946.47,607.69 1949.02,605.78 1952.42,605.94 1955.82,605.83 1958.65,604.29 1961.48,603.01 1964.32,601.72 1966.87,601.47 1969.42,601.43 1971.97,601.56" fill="none" stroke="#999999" stroke-width="3.8" stroke-linejoin="round" stroke-linecap="butt"/>
<polyline points="1694.85,650.01 1699.1,645.62 1702.5,645.76 1705.9,645.81 1708.45,645.52 1711,644.92 1713.55,644.83 1716.1,644.95 1718.65,644.56 1721.2,644.03 1724.6,643.68 1728,643.2 1730.55,642.88 1733.1,642.27 1736.5,640.94 1739.9,639.88 1743.3,638.94 1746.71,638.02 1750.11,636.9 1753.51,635.64 1756.06,634.62 1758.61,633.84 1761.16,634.33 1763.71,634.61 1767.11,633.44 1770.51,632.03 1773.91,632.46 1777.31,632.8 1780.71,631.1 1784.11,629.67 1786.66,629.18 1789.21,628.93 1791.76,627.12 1794.31,625.43 1797.14,625.52 1799.98,625.51 1802.81,625.3 1805.36,624.51 1807.91,623.71 1810.46,624.85 1813.01,626.02 1816.41,622.85 1818.96,623.26 1821.51,623.56 1824.06,621.47 1826.61,619.28 1829.16,616.9 1831.71,614.33 1835.11,611.63 1838.51,609.25 1841.06,609.51 1843.61,609.92 1846.16,608.12 1848.71,606.62 1851.26,606.08 1853.81,605.74 1856.36,607.33 1858.91,609.11 1861.46,611.78 1864.01,614.33 1867.41,615.15 1870.81,616 1874.21,618.53 1877.61,621.13 1881.01,624.38 1884.41,627.83 1887.81,628.63 1891.21,629.67 1894.61,631.49 1898.01,632.95 1901.41,632 1904.81,631.3 1908.21,633.03 1911.62,634.55 1915.02,636.4 1918.42,638.26 1921.82,640.71 1925.22,643.18 1928.62,644.49 1932.02,645.92 1935.42,648.31 1938.82,647.81 1942.22,647.32 1945.62,646.58 1949.02,645.74 1951.85,646.51 1954.68,647.37 1957.52,648.1 1960.35,647.86 1963.18,647.83 1966.02,647.53 1968.99,647 1971.97,646.61" fill="none" stroke="#e11c24" stroke-width="3.8" stroke-linejoin="round" stroke-linecap="butt"/>
<line x1="1675.3" y1="640.6" x2="1985.5" y2="640.6" stroke="#000" stroke-width="4.3" stroke-dasharray="18.6 18.4"/>
<line x1="1788.1" y1="474.4" x2="1788.1" y2="805.9" stroke="#000" stroke-width="4.3" stroke-dasharray="18.6 18.4" stroke-dashoffset="18.4"/>
<line x1="1877.3" y1="474.4" x2="1877.3" y2="805.9" stroke="#000" stroke-width="4.3" stroke-dasharray="18.6 18.4" stroke-dashoffset="18.4"/>
<rect x="1676.3" y="474.4" width="309.2" height="331.5" fill="none" stroke="#333333" stroke-width="1.9"/>
<line x1="1671.1" y1="545.4" x2="1676.3" y2="545.4" stroke="#333333" stroke-width="2.6"/>
<text x="1597.4" y="554.8" font-size="26.3" fill="#000">0.005</text>
<line x1="1671.1" y1="640.6" x2="1676.3" y2="640.6" stroke="#333333" stroke-width="2.6"/>
<text x="1597.27" y="650" font-size="26.3" fill="#000">0.000</text>
<line x1="1671.1" y1="735.8" x2="1676.3" y2="735.8" stroke="#333333" stroke-width="2.6"/>
<text x="1582.02" y="745.2" font-size="26.3" fill="#000">−0.005</text>
<line x1="1689.5" y1="805.9" x2="1689.5" y2="810.9" stroke="#333333" stroke-width="2.8"/>
<line x1="1971.7" y1="805.9" x2="1971.7" y2="810.9" stroke="#333333" stroke-width="2.8"/>
<text x="1658.48" y="835.4" font-size="26.4" fill="#000">−1</text>
<text transform="translate(1762.49,834.9) scale(1.0205,1)" font-size="26.4" fill="#000">ZF off-target</text>
<text x="1955.85" y="834.9" font-size="26.4" fill="#000">1kb</text>
<text transform="translate(1536.9,614.2) rotate(-90) scale(1.11,1)" font-size="25.5" text-anchor="middle">Methylation level vairation</text>
<text transform="translate(1568.3,614.2) rotate(-90) scale(1.11,1)" font-size="25.5" text-anchor="middle">(sample minus <tspan font-style="italic">fwa</tspan> control)</text>
<text transform="translate(1789.14,894.72) scale(1.1228,1)" font-size="27.75" fill="#000">CHH</text>
<polyline points="1686.35,1070.26 1688.9,1069.82 1691.45,1069.32 1694,1068.78 1697.4,1067.69 1700.8,1066.88 1704.2,1065.99 1707.6,1065.16 1711,1064.2 1713.84,1063.31 1716.67,1062.52 1719.5,1061.63 1722.34,1061.96 1725.17,1062.14 1728,1062.39 1731.4,1062.85 1734.8,1063.13 1738.2,1063.44 1741.6,1064.2 1745.01,1064.81 1747.56,1064.42 1750.11,1064.32 1752.94,1062.64 1755.77,1060.97 1758.61,1059.28 1761.44,1058.25 1764.27,1056.99 1767.11,1055.91 1770.51,1053.27 1773.91,1050.73 1777.31,1048.22 1780.71,1045.58 1784.11,1042.07 1787.51,1038.73 1790.91,1032.88 1794.31,1026.95 1797.71,1020.11 1801.11,1013.35 1804.51,1005.58 1807.91,997.87 1811.31,991.08 1814.71,984.44 1817.26,980.93 1819.81,977.45 1824.06,974.86 1827.04,976.09 1830.01,977.42 1833.41,982.63 1836.81,987.86 1840.21,993.73 1843.61,999.65 1847.01,1007.27 1850.41,1014.9 1853.81,1022.69 1857.21,1030.34 1860.61,1036.62 1864.01,1042.91 1867.41,1047.74 1870.81,1052.48 1874.21,1054.67 1877.61,1056.65 1881.01,1057.26 1884.41,1057.98 1887.81,1058.45 1891.21,1059.05 1894.61,1060.3 1898.01,1061.9 1901.41,1062.54 1904.81,1063.4 1908.21,1062.72 1911.62,1062.33 1915.02,1061.82 1918.42,1061.36 1921.82,1060.8 1925.22,1060.28 1928.62,1059.76 1932.02,1059.42 1934.85,1060.24 1937.68,1060.95 1940.52,1061.92 1943.92,1063.5 1947.32,1065.09 1950.72,1063.72 1954.12,1062.52 1957.52,1062.05 1960.92,1061.82 1964.32,1061.07 1967.72,1060.06" fill="none" stroke="#377db9" stroke-width="3.8" stroke-linejoin="round" stroke-linecap="butt"/>
<polyline points="1686.35,993.24 1688.9,993.25 1691.45,993.13 1694,993.04 1696.84,993.55 1699.67,993.83 1702.5,994.32 1705.9,994.41 1709.3,994.45 1712.14,994.21 1714.97,993.88 1717.8,993.71 1721.2,995.15 1724.6,996.25 1728,997.47 1731.4,998.89 1734.8,1000.08 1737.64,1001.28 1740.47,1002.56 1743.3,1004.03 1746.14,1004.68 1748.97,1005.4 1751.81,1006.19 1755.21,1006.01 1758.61,1005.7 1761.44,1005.55 1764.27,1005.63 1767.11,1005.5 1770.51,1003.76 1773.91,1002.06 1776.74,1001.25 1779.57,1000.24 1782.41,999.38 1785.81,997.32 1789.21,995.29 1792.61,991.4 1796.01,987.75 1799.41,982.79 1802.81,977.56 1806.21,971.13 1809.61,964.66 1813.01,961.65 1816.41,958.47 1819.81,957.3 1823.21,956.32 1826.61,958.07 1830.01,959.74 1833.41,964.74 1836.81,969.94 1840.21,975.49 1843.61,980.99 1847.01,984.72 1850.41,988.73 1853.81,992.2 1857.21,995.58 1860.61,997.79 1864.01,999.84 1867.41,1000.57 1870.81,1001.3 1873.65,1001.27 1876.48,1001.17 1879.31,1001.04 1882.15,1001.03 1884.98,1000.89 1887.81,1000.52 1891.21,1000.06 1894.61,999.26 1898.01,999.47 1901.41,999.53 1904.81,999.74 1908.21,999.01 1911.62,998.09 1915.02,997.28 1918.42,996.91 1921.82,996.83 1925.22,996.54 1928.62,996.46 1932.02,996.33 1935.42,996.13 1938.39,996.42 1941.37,996.43 1944.34,996.55 1947.32,996.62 1950.15,995.92 1952.98,995.03 1955.82,994.09 1958.79,993.48 1961.77,992.96 1964.74,992.51 1967.72,992.05" fill="none" stroke="#964b9b" stroke-width="3.8" stroke-linejoin="round" stroke-linecap="butt"/>
<polyline points="1686.35,1017.05 1688.9,1016.26 1691.45,1015.69 1694,1015.05 1697.4,1015.02 1700.8,1014.93 1704.2,1015.05 1707.6,1015.41 1711,1015.63 1714.4,1015.89 1717.8,1016.93 1721.2,1017.94 1724.6,1019.13 1728,1020.07 1731.4,1020.81 1734.8,1021.82 1738.2,1023.15 1741.6,1024.52 1745.01,1025.86 1747.56,1026.39 1750.11,1026.72 1752.66,1027.07 1755.77,1026 1758.89,1024.78 1762.01,1023.75 1764.84,1023.4 1767.67,1022.91 1770.51,1022.72 1773.34,1022.37 1776.17,1021.98 1779.01,1021.85 1782.41,1021.15 1785.81,1020.75 1789.21,1020.13 1792.61,1019.28 1796.01,1018.37 1798.84,1016.97 1801.68,1015.47 1804.51,1013.96 1807.34,1012.47 1810.18,1010.68 1813.01,1009.1 1815.84,1008.99 1818.68,1009.16 1821.51,1009.23 1824.91,1007.77 1828.31,1006.32 1830.86,1006.44 1833.41,1006.63 1836.81,1008.15 1840.21,1009.87 1843.61,1012.11 1847.01,1014.11 1849.84,1015.67 1852.68,1017.16 1855.51,1018.46 1858.35,1020.09 1861.18,1021.78 1864.01,1023.46 1866.85,1024.65 1869.68,1025.57 1872.51,1026.44 1875.91,1026.38 1879.31,1026.54 1882.71,1026.44 1886.11,1026.12 1889.51,1024.39 1892.91,1022.69 1895.75,1022.18 1898.58,1021.48 1901.41,1020.97 1904.81,1020.98 1908.21,1021 1911.62,1020.88 1915.02,1021.1 1918.42,1021.41 1921.82,1021.88 1925.22,1021.34 1928.62,1020.92 1932.02,1020.4 1935.42,1019.91 1938.82,1019.45 1942.22,1019.25 1945.05,1019.05 1947.88,1018.69 1950.72,1018.46 1953.55,1017.92 1956.38,1017.43 1959.22,1016.92 1962.05,1016.5 1964.88,1016.33 1967.72,1015.86" fill="none" stroke="#f47c20" stroke-width="3.8" stroke-linejoin="round" stroke-linecap="butt"/>
<polyline points="1686.35,1032.86 1688.9,1033.56 1691.45,1033.95 1694,1034.39 1696.84,1035.02 1699.67,1035.29 1702.5,1035.6 1705.9,1036.4 1709.3,1037.05 1712.14,1036.17 1714.97,1035.03 1717.8,1034.17 1720.64,1034.39 1723.47,1034.76 1726.3,1035.21 1729.14,1035.59 1731.97,1036.05 1734.8,1036.41 1737.64,1036.77 1740.47,1037.48 1743.3,1038.03 1746.71,1038.36 1750.11,1038.7 1753.51,1038.43 1756.91,1038.01 1759.74,1037.83 1762.57,1037.55 1765.41,1037.33 1768.81,1035.96 1772.21,1034.68 1775.61,1032.53 1779.01,1030.28 1782.41,1027.03 1785.81,1023.51 1789.21,1017.64 1792.61,1011.78 1795.16,1005.79 1797.71,999.66 1800.26,992.13 1802.81,984.49 1805.36,976.7 1807.91,968.94 1810.46,963.08 1813.01,957.03 1815.56,952.99 1818.11,948.72 1821.08,947.19 1824.06,945.62 1828.31,949.59 1830.86,953.52 1833.41,957.22 1836.81,964.82 1840.21,972.51 1843.61,979.25 1847.01,986.1 1850.41,993.77 1853.81,1001.39 1857.21,1008.25 1860.61,1015.04 1863.16,1019.57 1865.71,1024.45 1869.11,1028.19 1872.51,1031.99 1875.35,1033.1 1878.18,1034.38 1881.01,1035.6 1884.41,1035.79 1887.81,1035.99 1891.21,1036.15 1893.93,1036.56 1896.65,1036.67 1899.37,1036.95 1902.09,1037.15 1904.81,1037.37 1908.21,1036.68 1911.62,1035.95 1915.02,1035.2 1918.42,1034.46 1921.82,1033.75 1925.22,1032.92 1928.62,1032.35 1932.02,1031.98 1935.42,1031.38 1938.39,1031.54 1941.37,1031.81 1944.34,1032.03 1947.32,1032.07 1950.15,1031.97 1952.98,1031.73 1955.82,1031.54 1958.79,1031.41 1961.77,1031.41 1964.74,1031.27 1967.72,1030.99" fill="none" stroke="#999999" stroke-width="3.8" stroke-linejoin="round" stroke-linecap="butt"/>
<polyline points="1686.35,1078.76 1688.9,1078.54 1691.45,1078.33 1694,1077.88 1696.84,1077.76 1699.67,1077.32 1702.5,1077.1 1705.9,1077.55 1709.3,1078.27 1712.7,1076.71 1716.1,1075.37 1718.94,1075.26 1721.77,1075.14 1724.6,1074.89 1728,1075.32 1731.4,1075.74 1734.8,1075.86 1737.64,1075.98 1740.47,1076.23 1743.3,1076.35 1746.14,1075.7 1748.97,1075.04 1751.81,1074.63 1754.64,1073.76 1757.47,1073.19 1760.31,1072.59 1763.71,1072.17 1767.11,1071.89 1769.94,1070.45 1772.77,1069.09 1775.61,1067.65 1779.01,1066.52 1782.41,1065.33 1785.38,1064.34 1788.36,1063.59 1791.33,1062.55 1794.31,1061.61 1797.14,1060.6 1799.98,1059.57 1802.81,1058.49 1806.21,1056.87 1809.61,1055.17 1813.01,1053.29 1815.77,1052.29 1818.53,1051.31 1821.3,1050.03 1824.06,1048.99 1826.61,1050.03 1829.16,1051.11 1831.71,1052.32 1835.11,1054.54 1838.51,1056.8 1841.34,1057.75 1844.18,1058.91 1847.01,1060.2 1849.84,1061.34 1852.68,1062.41 1855.51,1063.42 1858.35,1064.05 1861.18,1064.53 1864.01,1065.17 1866.85,1066.06 1869.68,1066.85 1872.51,1067.79 1875.91,1069 1879.31,1070.26 1882.15,1071.21 1884.98,1071.93 1887.81,1072.7 1891.21,1073.23 1894.61,1073.68 1898.01,1074.26 1900.85,1074.37 1903.68,1074.57 1906.51,1074.69 1909.35,1075.09 1912.18,1075.43 1915.02,1075.8 1918.42,1076.31 1921.82,1076.55 1925.22,1077.15 1928.62,1077 1932.02,1076.87 1935.42,1076.63 1938.14,1076.82 1940.86,1076.96 1943.58,1077.13 1946.3,1077.27 1949.02,1077.46 1952.42,1077.11 1955.82,1076.78 1959.22,1076.62 1962.05,1076.45 1964.88,1076.2 1967.72,1075.87" fill="none" stroke="#e11c24" stroke-width="3.8" stroke-linejoin="round" stroke-linecap="butt"/>
<line x1="1667.1" y1="1068.8" x2="1980.8" y2="1068.8" stroke="#000" stroke-width="4.3" stroke-dasharray="18.6 18.4"/>
<line x1="1781.5" y1="903.2" x2="1781.5" y2="1234.1" stroke="#000" stroke-width="4.3" stroke-dasharray="18.6 18.4" stroke-dashoffset="18.4"/>
<line x1="1872" y1="903.2" x2="1872" y2="1234.1" stroke="#000" stroke-width="4.3" stroke-dasharray="18.6 18.4" stroke-dashoffset="18.4"/>
<rect x="1668.1" y="903.2" width="312.7" height="330.9" fill="none" stroke="#333333" stroke-width="1.9"/>
<line x1="1662.9" y1="973.6" x2="1668.1" y2="973.6" stroke="#333333" stroke-width="2.6"/>
<text x="1587.9" y="983" font-size="26.3" fill="#000">0.005</text>
<line x1="1662.9" y1="1068.8" x2="1668.1" y2="1068.8" stroke="#333333" stroke-width="2.6"/>
<text x="1587.77" y="1078.2" font-size="26.3" fill="#000">0.000</text>
<line x1="1662.9" y1="1164" x2="1668.1" y2="1164" stroke="#333333" stroke-width="2.6"/>
<text x="1572.52" y="1173.4" font-size="26.3" fill="#000">−0.005</text>
<line x1="1681.4" y1="1234.1" x2="1681.4" y2="1239.1" stroke="#333333" stroke-width="2.8"/>
<line x1="1967.6" y1="1234.1" x2="1967.6" y2="1239.1" stroke="#333333" stroke-width="2.8"/>
<text x="1658.48" y="1259.9" font-size="26.4" fill="#000">−1</text>
<text transform="translate(1757.99,1262.6) scale(1.0205,1)" font-size="26.4" fill="#000">ZF off-target</text>
<text x="1955.85" y="1258.3" font-size="26.4" fill="#000">1kb</text>
<text transform="translate(1536.9,1050.9) rotate(-90) scale(1.11,1)" font-size="25.5" text-anchor="middle">Methylation level vairation</text>
<text transform="translate(1568.3,1050.9) rotate(-90) scale(1.11,1)" font-size="25.5" text-anchor="middle">(sample minus <tspan font-style="italic">fwa</tspan> control)</text>
<text x="1776.08" y="1301.9" font-size="26.4" fill="#000">n=6,091</text>
<line x1="1594.1" y1="1328.7" x2="1664.5" y2="1328.7" stroke="#377db9" stroke-width="3.9"/>
<text x="1669.69" y="1340" font-size="26.4" fill="#000">MOM1-ZF</text>
<line x1="1804.2" y1="1328.7" x2="1874.6" y2="1328.7" stroke="#964b9b" stroke-width="3.9"/>
<text x="1879.09" y="1340" font-size="26.4" fill="#000">MOM2-ZF</text>
<line x1="1594.1" y1="1363.5" x2="1664.5" y2="1363.5" stroke="#f47c20" stroke-width="3.9"/>
<text x="1669.69" y="1375" font-size="26.4" fill="#000">PIAL1-ZF</text>
<line x1="1804.2" y1="1363.5" x2="1874.6" y2="1363.5" stroke="#999999" stroke-width="3.9"/>
<text x="1879.09" y="1373.6" font-size="26.4" fill="#000">PIAL2-ZF</text>
<line x1="1594.1" y1="1401.6" x2="1664.5" y2="1401.6" stroke="#e11c24" stroke-width="3.9"/>
<text x="1670.09" y="1411.9" font-size="26.4" fill="#000">PHD1-ZF</text>
</svg></body></html>
